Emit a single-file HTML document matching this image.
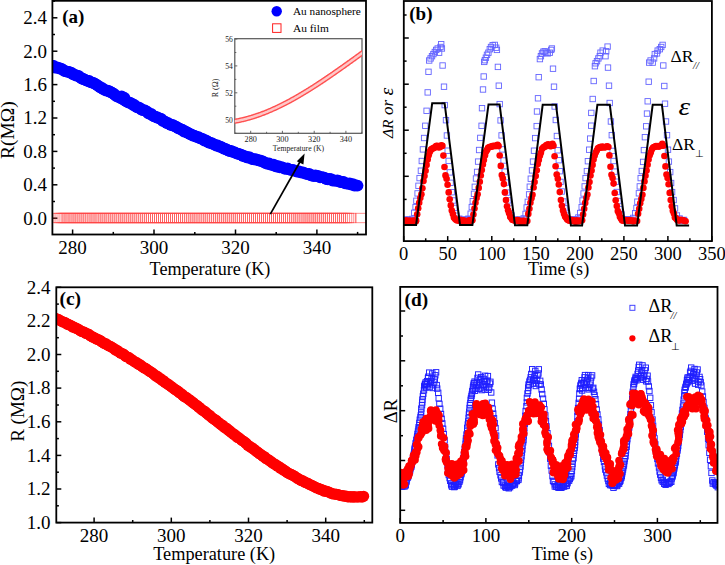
<!DOCTYPE html>
<html><head><meta charset="utf-8"><style>html,body{margin:0;padding:0;background:#fff;width:725px;height:565px;overflow:hidden}svg{display:block}</style></head>
<body><svg width="725" height="565" viewBox="0 0 725 565">
<rect width="725" height="565" fill="#fff"/>
<defs>
<clipPath id="ca"><rect x="52.4" y="0.8" width="313.6" height="233.7"/></clipPath>
<clipPath id="cb"><rect x="403.8" y="1" width="308.1" height="240.1"/></clipPath>
<clipPath id="cc"><rect x="56.3" y="287.3" width="316" height="235.3"/></clipPath>
<clipPath id="cd"><rect x="400.2" y="286.9" width="317.3" height="236"/></clipPath>
<clipPath id="ci"><rect x="234.8" y="38.7" width="127.2" height="94.6"/></clipPath>
</defs>
<line x1="52.4" y1="218.2" x2="57.4" y2="218.2" stroke="#000" stroke-width="1.5"/>
<line x1="52.4" y1="184.8" x2="57.4" y2="184.8" stroke="#000" stroke-width="1.5"/>
<line x1="52.4" y1="151.4" x2="57.4" y2="151.4" stroke="#000" stroke-width="1.5"/>
<line x1="52.4" y1="118.0" x2="57.4" y2="118.0" stroke="#000" stroke-width="1.5"/>
<line x1="52.4" y1="84.6" x2="57.4" y2="84.6" stroke="#000" stroke-width="1.5"/>
<line x1="52.4" y1="51.2" x2="57.4" y2="51.2" stroke="#000" stroke-width="1.5"/>
<line x1="52.4" y1="17.8" x2="57.4" y2="17.8" stroke="#000" stroke-width="1.5"/>
<line x1="52.4" y1="201.5" x2="55.0" y2="201.5" stroke="#000" stroke-width="1.5"/>
<line x1="52.4" y1="168.1" x2="55.0" y2="168.1" stroke="#000" stroke-width="1.5"/>
<line x1="52.4" y1="134.7" x2="55.0" y2="134.7" stroke="#000" stroke-width="1.5"/>
<line x1="52.4" y1="101.3" x2="55.0" y2="101.3" stroke="#000" stroke-width="1.5"/>
<line x1="52.4" y1="67.9" x2="55.0" y2="67.9" stroke="#000" stroke-width="1.5"/>
<line x1="52.4" y1="34.5" x2="55.0" y2="34.5" stroke="#000" stroke-width="1.5"/>
<line x1="52.4" y1="1.1" x2="55.0" y2="1.1" stroke="#000" stroke-width="1.5"/>
<line x1="72.6" y1="234.5" x2="72.6" y2="229.5" stroke="#000" stroke-width="1.5"/>
<line x1="154.0" y1="234.5" x2="154.0" y2="229.5" stroke="#000" stroke-width="1.5"/>
<line x1="235.5" y1="234.5" x2="235.5" y2="229.5" stroke="#000" stroke-width="1.5"/>
<line x1="316.9" y1="234.5" x2="316.9" y2="229.5" stroke="#000" stroke-width="1.5"/>
<line x1="113.3" y1="234.5" x2="113.3" y2="231.9" stroke="#000" stroke-width="1.5"/>
<line x1="194.8" y1="234.5" x2="194.8" y2="231.9" stroke="#000" stroke-width="1.5"/>
<line x1="276.2" y1="234.5" x2="276.2" y2="231.9" stroke="#000" stroke-width="1.5"/>
<line x1="357.6" y1="234.5" x2="357.6" y2="231.9" stroke="#000" stroke-width="1.5"/>
<line x1="403.8" y1="15.0" x2="406.6" y2="15.0" stroke="#000" stroke-width="1.5"/>
<line x1="403.8" y1="61.1" x2="406.6" y2="61.1" stroke="#000" stroke-width="1.5"/>
<line x1="403.8" y1="107.2" x2="406.6" y2="107.2" stroke="#000" stroke-width="1.5"/>
<line x1="403.8" y1="153.3" x2="406.6" y2="153.3" stroke="#000" stroke-width="1.5"/>
<line x1="403.8" y1="199.4" x2="406.6" y2="199.4" stroke="#000" stroke-width="1.5"/>
<line x1="403.8" y1="38.0" x2="408.8" y2="38.0" stroke="#000" stroke-width="1.5"/>
<line x1="403.8" y1="84.2" x2="408.8" y2="84.2" stroke="#000" stroke-width="1.5"/>
<line x1="403.8" y1="130.2" x2="408.8" y2="130.2" stroke="#000" stroke-width="1.5"/>
<line x1="403.8" y1="176.3" x2="408.8" y2="176.3" stroke="#000" stroke-width="1.5"/>
<line x1="403.8" y1="222.5" x2="408.8" y2="222.5" stroke="#000" stroke-width="1.5"/>
<line x1="403.7" y1="241.1" x2="403.7" y2="236.1" stroke="#000" stroke-width="1.5"/>
<line x1="447.7" y1="241.1" x2="447.7" y2="236.1" stroke="#000" stroke-width="1.5"/>
<line x1="491.8" y1="241.1" x2="491.8" y2="236.1" stroke="#000" stroke-width="1.5"/>
<line x1="535.8" y1="241.1" x2="535.8" y2="236.1" stroke="#000" stroke-width="1.5"/>
<line x1="579.8" y1="241.1" x2="579.8" y2="236.1" stroke="#000" stroke-width="1.5"/>
<line x1="623.9" y1="241.1" x2="623.9" y2="236.1" stroke="#000" stroke-width="1.5"/>
<line x1="667.9" y1="241.1" x2="667.9" y2="236.1" stroke="#000" stroke-width="1.5"/>
<line x1="711.9" y1="241.1" x2="711.9" y2="236.1" stroke="#000" stroke-width="1.5"/>
<line x1="425.7" y1="241.1" x2="425.7" y2="238.3" stroke="#000" stroke-width="1.5"/>
<line x1="469.7" y1="241.1" x2="469.7" y2="238.3" stroke="#000" stroke-width="1.5"/>
<line x1="513.8" y1="241.1" x2="513.8" y2="238.3" stroke="#000" stroke-width="1.5"/>
<line x1="557.8" y1="241.1" x2="557.8" y2="238.3" stroke="#000" stroke-width="1.5"/>
<line x1="601.8" y1="241.1" x2="601.8" y2="238.3" stroke="#000" stroke-width="1.5"/>
<line x1="645.9" y1="241.1" x2="645.9" y2="238.3" stroke="#000" stroke-width="1.5"/>
<line x1="689.9" y1="241.1" x2="689.9" y2="238.3" stroke="#000" stroke-width="1.5"/>
<line x1="56.3" y1="522.6" x2="61.3" y2="522.6" stroke="#000" stroke-width="1.5"/>
<line x1="56.3" y1="489.0" x2="61.3" y2="489.0" stroke="#000" stroke-width="1.5"/>
<line x1="56.3" y1="455.4" x2="61.3" y2="455.4" stroke="#000" stroke-width="1.5"/>
<line x1="56.3" y1="421.8" x2="61.3" y2="421.8" stroke="#000" stroke-width="1.5"/>
<line x1="56.3" y1="388.1" x2="61.3" y2="388.1" stroke="#000" stroke-width="1.5"/>
<line x1="56.3" y1="354.5" x2="61.3" y2="354.5" stroke="#000" stroke-width="1.5"/>
<line x1="56.3" y1="320.9" x2="61.3" y2="320.9" stroke="#000" stroke-width="1.5"/>
<line x1="56.3" y1="287.3" x2="61.3" y2="287.3" stroke="#000" stroke-width="1.5"/>
<line x1="56.3" y1="505.8" x2="58.9" y2="505.8" stroke="#000" stroke-width="1.5"/>
<line x1="56.3" y1="472.2" x2="58.9" y2="472.2" stroke="#000" stroke-width="1.5"/>
<line x1="56.3" y1="438.6" x2="58.9" y2="438.6" stroke="#000" stroke-width="1.5"/>
<line x1="56.3" y1="405.0" x2="58.9" y2="405.0" stroke="#000" stroke-width="1.5"/>
<line x1="56.3" y1="371.3" x2="58.9" y2="371.3" stroke="#000" stroke-width="1.5"/>
<line x1="56.3" y1="337.7" x2="58.9" y2="337.7" stroke="#000" stroke-width="1.5"/>
<line x1="56.3" y1="304.1" x2="58.9" y2="304.1" stroke="#000" stroke-width="1.5"/>
<line x1="94.1" y1="522.6" x2="94.1" y2="517.6" stroke="#000" stroke-width="1.5"/>
<line x1="171.3" y1="522.6" x2="171.3" y2="517.6" stroke="#000" stroke-width="1.5"/>
<line x1="248.5" y1="522.6" x2="248.5" y2="517.6" stroke="#000" stroke-width="1.5"/>
<line x1="325.7" y1="522.6" x2="325.7" y2="517.6" stroke="#000" stroke-width="1.5"/>
<line x1="132.7" y1="522.6" x2="132.7" y2="520.0" stroke="#000" stroke-width="1.5"/>
<line x1="209.9" y1="522.6" x2="209.9" y2="520.0" stroke="#000" stroke-width="1.5"/>
<line x1="287.1" y1="522.6" x2="287.1" y2="520.0" stroke="#000" stroke-width="1.5"/>
<line x1="364.3" y1="522.6" x2="364.3" y2="520.0" stroke="#000" stroke-width="1.5"/>
<line x1="400.2" y1="311.0" x2="405.2" y2="311.0" stroke="#000" stroke-width="1.5"/>
<line x1="400.2" y1="360.8" x2="405.2" y2="360.8" stroke="#000" stroke-width="1.5"/>
<line x1="400.2" y1="410.7" x2="405.2" y2="410.7" stroke="#000" stroke-width="1.5"/>
<line x1="400.2" y1="460.5" x2="405.2" y2="460.5" stroke="#000" stroke-width="1.5"/>
<line x1="400.2" y1="510.3" x2="405.2" y2="510.3" stroke="#000" stroke-width="1.5"/>
<line x1="400.2" y1="336.0" x2="403.0" y2="336.0" stroke="#000" stroke-width="1.5"/>
<line x1="400.2" y1="385.8" x2="403.0" y2="385.8" stroke="#000" stroke-width="1.5"/>
<line x1="400.2" y1="435.7" x2="403.0" y2="435.7" stroke="#000" stroke-width="1.5"/>
<line x1="400.2" y1="485.5" x2="403.0" y2="485.5" stroke="#000" stroke-width="1.5"/>
<line x1="400.2" y1="522.9" x2="400.2" y2="517.9" stroke="#000" stroke-width="1.5"/>
<line x1="485.9" y1="522.9" x2="485.9" y2="517.9" stroke="#000" stroke-width="1.5"/>
<line x1="571.7" y1="522.9" x2="571.7" y2="517.9" stroke="#000" stroke-width="1.5"/>
<line x1="657.4" y1="522.9" x2="657.4" y2="517.9" stroke="#000" stroke-width="1.5"/>
<line x1="443.1" y1="522.9" x2="443.1" y2="520.1" stroke="#000" stroke-width="1.5"/>
<line x1="528.8" y1="522.9" x2="528.8" y2="520.1" stroke="#000" stroke-width="1.5"/>
<line x1="614.5" y1="522.9" x2="614.5" y2="520.1" stroke="#000" stroke-width="1.5"/>
<line x1="700.3" y1="522.9" x2="700.3" y2="520.1" stroke="#000" stroke-width="1.5"/>
<g clip-path="url(#ca)" fill="none" stroke="#ff4545" stroke-width="0.6">
<rect x="52.00" y="213.2" width="10.1" height="9.6"/>
<rect x="53.99" y="213.2" width="10.1" height="9.6"/>
<rect x="55.96" y="213.2" width="10.1" height="9.6"/>
<rect x="58.00" y="213.2" width="10.1" height="9.6"/>
<rect x="59.95" y="213.2" width="10.1" height="9.6"/>
<rect x="61.98" y="213.2" width="10.1" height="9.6"/>
<rect x="63.98" y="213.2" width="10.1" height="9.6"/>
<rect x="65.93" y="213.2" width="10.1" height="9.6"/>
<rect x="67.95" y="213.2" width="10.1" height="9.6"/>
<rect x="69.89" y="213.2" width="10.1" height="9.6"/>
<rect x="71.90" y="213.2" width="10.1" height="9.6"/>
<rect x="73.85" y="213.2" width="10.1" height="9.6"/>
<rect x="75.81" y="213.2" width="10.1" height="9.6"/>
<rect x="77.82" y="213.2" width="10.1" height="9.6"/>
<rect x="79.89" y="213.2" width="10.1" height="9.6"/>
<rect x="81.85" y="213.2" width="10.1" height="9.6"/>
<rect x="83.82" y="213.2" width="10.1" height="9.6"/>
<rect x="85.86" y="213.2" width="10.1" height="9.6"/>
<rect x="87.96" y="213.2" width="10.1" height="9.6"/>
<rect x="89.99" y="213.2" width="10.1" height="9.6"/>
<rect x="91.99" y="213.2" width="10.1" height="9.6"/>
<rect x="94.09" y="213.2" width="10.1" height="9.6"/>
<rect x="96.03" y="213.2" width="10.1" height="9.6"/>
<rect x="98.11" y="213.2" width="10.1" height="9.6"/>
<rect x="100.10" y="213.2" width="10.1" height="9.6"/>
<rect x="102.06" y="213.2" width="10.1" height="9.6"/>
<rect x="104.02" y="213.2" width="10.1" height="9.6"/>
<rect x="106.01" y="213.2" width="10.1" height="9.6"/>
<rect x="108.08" y="213.2" width="10.1" height="9.6"/>
<rect x="110.05" y="213.2" width="10.1" height="9.6"/>
<rect x="112.08" y="213.2" width="10.1" height="9.6"/>
<rect x="114.12" y="213.2" width="10.1" height="9.6"/>
<rect x="116.12" y="213.2" width="10.1" height="9.6"/>
<rect x="118.15" y="213.2" width="10.1" height="9.6"/>
<rect x="120.10" y="213.2" width="10.1" height="9.6"/>
<rect x="122.05" y="213.2" width="10.1" height="9.6"/>
<rect x="124.02" y="213.2" width="10.1" height="9.6"/>
<rect x="126.07" y="213.2" width="10.1" height="9.6"/>
<rect x="128.08" y="213.2" width="10.1" height="9.6"/>
<rect x="130.07" y="213.2" width="10.1" height="9.6"/>
<rect x="132.11" y="213.2" width="10.1" height="9.6"/>
<rect x="134.12" y="213.2" width="10.1" height="9.6"/>
<rect x="136.11" y="213.2" width="10.1" height="9.6"/>
<rect x="138.17" y="213.2" width="10.1" height="9.6"/>
<rect x="140.22" y="213.2" width="10.1" height="9.6"/>
<rect x="142.20" y="213.2" width="10.1" height="9.6"/>
<rect x="144.24" y="213.2" width="10.1" height="9.6"/>
<rect x="146.26" y="213.2" width="10.1" height="9.6"/>
<rect x="148.34" y="213.2" width="10.1" height="9.6"/>
<rect x="150.40" y="213.2" width="10.1" height="9.6"/>
<rect x="152.38" y="213.2" width="10.1" height="9.6"/>
<rect x="154.48" y="213.2" width="10.1" height="9.6"/>
<rect x="156.44" y="213.2" width="10.1" height="9.6"/>
<rect x="158.45" y="213.2" width="10.1" height="9.6"/>
<rect x="160.51" y="213.2" width="10.1" height="9.6"/>
<rect x="162.47" y="213.2" width="10.1" height="9.6"/>
<rect x="164.49" y="213.2" width="10.1" height="9.6"/>
<rect x="166.44" y="213.2" width="10.1" height="9.6"/>
<rect x="168.48" y="213.2" width="10.1" height="9.6"/>
<rect x="170.54" y="213.2" width="10.1" height="9.6"/>
<rect x="172.58" y="213.2" width="10.1" height="9.6"/>
<rect x="174.66" y="213.2" width="10.1" height="9.6"/>
<rect x="176.65" y="213.2" width="10.1" height="9.6"/>
<rect x="178.70" y="213.2" width="10.1" height="9.6"/>
<rect x="180.73" y="213.2" width="10.1" height="9.6"/>
<rect x="182.77" y="213.2" width="10.1" height="9.6"/>
<rect x="184.78" y="213.2" width="10.1" height="9.6"/>
<rect x="186.85" y="213.2" width="10.1" height="9.6"/>
<rect x="188.94" y="213.2" width="10.1" height="9.6"/>
<rect x="190.96" y="213.2" width="10.1" height="9.6"/>
<rect x="193.01" y="213.2" width="10.1" height="9.6"/>
<rect x="194.96" y="213.2" width="10.1" height="9.6"/>
<rect x="197.01" y="213.2" width="10.1" height="9.6"/>
<rect x="199.05" y="213.2" width="10.1" height="9.6"/>
<rect x="201.15" y="213.2" width="10.1" height="9.6"/>
<rect x="203.22" y="213.2" width="10.1" height="9.6"/>
<rect x="205.21" y="213.2" width="10.1" height="9.6"/>
<rect x="207.21" y="213.2" width="10.1" height="9.6"/>
<rect x="209.26" y="213.2" width="10.1" height="9.6"/>
<rect x="211.20" y="213.2" width="10.1" height="9.6"/>
<rect x="213.21" y="213.2" width="10.1" height="9.6"/>
<rect x="215.18" y="213.2" width="10.1" height="9.6"/>
<rect x="217.14" y="213.2" width="10.1" height="9.6"/>
<rect x="219.09" y="213.2" width="10.1" height="9.6"/>
<rect x="221.15" y="213.2" width="10.1" height="9.6"/>
<rect x="223.11" y="213.2" width="10.1" height="9.6"/>
<rect x="225.09" y="213.2" width="10.1" height="9.6"/>
<rect x="227.09" y="213.2" width="10.1" height="9.6"/>
<rect x="229.17" y="213.2" width="10.1" height="9.6"/>
<rect x="231.13" y="213.2" width="10.1" height="9.6"/>
<rect x="233.14" y="213.2" width="10.1" height="9.6"/>
<rect x="235.17" y="213.2" width="10.1" height="9.6"/>
<rect x="237.25" y="213.2" width="10.1" height="9.6"/>
<rect x="239.32" y="213.2" width="10.1" height="9.6"/>
<rect x="241.40" y="213.2" width="10.1" height="9.6"/>
<rect x="243.38" y="213.2" width="10.1" height="9.6"/>
<rect x="245.39" y="213.2" width="10.1" height="9.6"/>
<rect x="247.39" y="213.2" width="10.1" height="9.6"/>
<rect x="249.47" y="213.2" width="10.1" height="9.6"/>
<rect x="251.56" y="213.2" width="10.1" height="9.6"/>
<rect x="253.52" y="213.2" width="10.1" height="9.6"/>
<rect x="255.49" y="213.2" width="10.1" height="9.6"/>
<rect x="257.47" y="213.2" width="10.1" height="9.6"/>
<rect x="259.45" y="213.2" width="10.1" height="9.6"/>
<rect x="261.46" y="213.2" width="10.1" height="9.6"/>
<rect x="263.50" y="213.2" width="10.1" height="9.6"/>
<rect x="265.48" y="213.2" width="10.1" height="9.6"/>
<rect x="267.42" y="213.2" width="10.1" height="9.6"/>
<rect x="269.43" y="213.2" width="10.1" height="9.6"/>
<rect x="271.43" y="213.2" width="10.1" height="9.6"/>
<rect x="273.46" y="213.2" width="10.1" height="9.6"/>
<rect x="275.55" y="213.2" width="10.1" height="9.6"/>
<rect x="277.60" y="213.2" width="10.1" height="9.6"/>
<rect x="279.62" y="213.2" width="10.1" height="9.6"/>
<rect x="281.66" y="213.2" width="10.1" height="9.6"/>
<rect x="283.71" y="213.2" width="10.1" height="9.6"/>
<rect x="285.66" y="213.2" width="10.1" height="9.6"/>
<rect x="287.74" y="213.2" width="10.1" height="9.6"/>
<rect x="289.81" y="213.2" width="10.1" height="9.6"/>
<rect x="291.89" y="213.2" width="10.1" height="9.6"/>
<rect x="293.96" y="213.2" width="10.1" height="9.6"/>
<rect x="295.96" y="213.2" width="10.1" height="9.6"/>
<rect x="297.96" y="213.2" width="10.1" height="9.6"/>
<rect x="299.92" y="213.2" width="10.1" height="9.6"/>
<rect x="301.96" y="213.2" width="10.1" height="9.6"/>
<rect x="303.91" y="213.2" width="10.1" height="9.6"/>
<rect x="305.86" y="213.2" width="10.1" height="9.6"/>
<rect x="307.83" y="213.2" width="10.1" height="9.6"/>
<rect x="309.80" y="213.2" width="10.1" height="9.6"/>
<rect x="311.80" y="213.2" width="10.1" height="9.6"/>
<rect x="313.74" y="213.2" width="10.1" height="9.6"/>
<rect x="315.68" y="213.2" width="10.1" height="9.6"/>
<rect x="317.65" y="213.2" width="10.1" height="9.6"/>
<rect x="319.60" y="213.2" width="10.1" height="9.6"/>
<rect x="321.60" y="213.2" width="10.1" height="9.6"/>
<rect x="323.55" y="213.2" width="10.1" height="9.6"/>
<rect x="325.63" y="213.2" width="10.1" height="9.6"/>
<rect x="327.66" y="213.2" width="10.1" height="9.6"/>
<rect x="329.63" y="213.2" width="10.1" height="9.6"/>
<rect x="331.61" y="213.2" width="10.1" height="9.6"/>
<rect x="333.60" y="213.2" width="10.1" height="9.6"/>
<rect x="335.60" y="213.2" width="10.1" height="9.6"/>
<rect x="337.56" y="213.2" width="10.1" height="9.6"/>
<rect x="339.64" y="213.2" width="10.1" height="9.6"/>
<rect x="341.74" y="213.2" width="10.1" height="9.6"/>
<rect x="343.75" y="213.2" width="10.1" height="9.6"/>
<rect x="345.77" y="213.2" width="10.1" height="9.6"/>
<rect x="355.9" y="213.2" width="10.1" height="9.6"/>
</g>
<g clip-path="url(#ca)" fill="#0000ff">
<circle cx="46.0" cy="63.7" r="5.9"/>
<circle cx="47.5" cy="64.5" r="5.9"/>
<circle cx="49.1" cy="64.8" r="5.9"/>
<circle cx="50.6" cy="65.9" r="5.9"/>
<circle cx="52.1" cy="65.6" r="5.9"/>
<circle cx="53.7" cy="65.9" r="5.9"/>
<circle cx="55.2" cy="67.6" r="5.9"/>
<circle cx="56.7" cy="67.6" r="5.9"/>
<circle cx="58.2" cy="67.6" r="5.9"/>
<circle cx="59.7" cy="68.7" r="5.9"/>
<circle cx="61.2" cy="68.6" r="5.9"/>
<circle cx="62.7" cy="69.7" r="5.9"/>
<circle cx="64.2" cy="70.9" r="5.9"/>
<circle cx="65.7" cy="71.3" r="5.9"/>
<circle cx="67.2" cy="71.7" r="5.9"/>
<circle cx="68.7" cy="71.8" r="5.9"/>
<circle cx="70.1" cy="72.5" r="5.9"/>
<circle cx="71.6" cy="72.9" r="5.9"/>
<circle cx="73.1" cy="74.3" r="5.9"/>
<circle cx="74.6" cy="74.6" r="5.9"/>
<circle cx="76.0" cy="75.6" r="5.9"/>
<circle cx="77.5" cy="75.7" r="5.9"/>
<circle cx="78.9" cy="76.2" r="5.9"/>
<circle cx="80.4" cy="77.6" r="5.9"/>
<circle cx="81.8" cy="78.5" r="5.9"/>
<circle cx="83.3" cy="79.0" r="5.9"/>
<circle cx="84.7" cy="79.6" r="5.9"/>
<circle cx="86.2" cy="80.3" r="5.9"/>
<circle cx="87.6" cy="80.9" r="5.9"/>
<circle cx="89.1" cy="81.0" r="5.9"/>
<circle cx="90.5" cy="82.1" r="5.9"/>
<circle cx="91.9" cy="82.6" r="5.9"/>
<circle cx="93.4" cy="82.9" r="5.9"/>
<circle cx="94.8" cy="83.6" r="5.9"/>
<circle cx="96.2" cy="84.6" r="5.9"/>
<circle cx="97.6" cy="85.3" r="5.9"/>
<circle cx="99.1" cy="86.6" r="5.9"/>
<circle cx="100.5" cy="87.6" r="5.9"/>
<circle cx="101.9" cy="87.8" r="5.9"/>
<circle cx="103.3" cy="89.1" r="5.9"/>
<circle cx="104.7" cy="89.9" r="5.9"/>
<circle cx="106.2" cy="90.6" r="5.9"/>
<circle cx="107.6" cy="90.6" r="5.9"/>
<circle cx="109.0" cy="91.2" r="5.9"/>
<circle cx="110.4" cy="92.0" r="5.9"/>
<circle cx="111.8" cy="92.7" r="5.9"/>
<circle cx="113.2" cy="93.5" r="5.9"/>
<circle cx="114.6" cy="94.7" r="5.9"/>
<circle cx="116.0" cy="95.8" r="5.9"/>
<circle cx="117.4" cy="96.5" r="5.9"/>
<circle cx="118.9" cy="96.8" r="5.9"/>
<circle cx="120.3" cy="97.8" r="5.9"/>
<circle cx="121.7" cy="98.7" r="5.9"/>
<circle cx="123.1" cy="98.6" r="5.9"/>
<circle cx="124.5" cy="100.1" r="5.9"/>
<circle cx="125.9" cy="101.2" r="5.9"/>
<circle cx="127.3" cy="101.8" r="5.9"/>
<circle cx="128.7" cy="102.5" r="5.9"/>
<circle cx="130.1" cy="102.9" r="5.9"/>
<circle cx="131.5" cy="103.3" r="5.9"/>
<circle cx="132.9" cy="104.8" r="5.9"/>
<circle cx="134.3" cy="105.0" r="5.9"/>
<circle cx="135.7" cy="106.4" r="5.9"/>
<circle cx="137.1" cy="107.3" r="5.9"/>
<circle cx="138.5" cy="107.4" r="5.9"/>
<circle cx="140.0" cy="108.2" r="5.9"/>
<circle cx="141.4" cy="109.6" r="5.9"/>
<circle cx="142.8" cy="110.1" r="5.9"/>
<circle cx="144.2" cy="110.2" r="5.9"/>
<circle cx="145.6" cy="110.9" r="5.9"/>
<circle cx="147.0" cy="111.7" r="5.9"/>
<circle cx="148.4" cy="113.3" r="5.9"/>
<circle cx="149.8" cy="113.9" r="5.9"/>
<circle cx="151.2" cy="113.9" r="5.9"/>
<circle cx="152.7" cy="115.5" r="5.9"/>
<circle cx="154.1" cy="116.4" r="5.9"/>
<circle cx="155.5" cy="116.8" r="5.9"/>
<circle cx="156.9" cy="117.1" r="5.9"/>
<circle cx="158.3" cy="118.1" r="5.9"/>
<circle cx="159.7" cy="118.4" r="5.9"/>
<circle cx="161.2" cy="119.0" r="5.9"/>
<circle cx="162.6" cy="120.8" r="5.9"/>
<circle cx="164.0" cy="121.2" r="5.9"/>
<circle cx="165.4" cy="121.8" r="5.9"/>
<circle cx="166.8" cy="123.0" r="5.9"/>
<circle cx="168.3" cy="123.1" r="5.9"/>
<circle cx="169.7" cy="124.4" r="5.9"/>
<circle cx="171.1" cy="125.0" r="5.9"/>
<circle cx="172.6" cy="125.0" r="5.9"/>
<circle cx="174.0" cy="125.8" r="5.9"/>
<circle cx="175.4" cy="126.5" r="5.9"/>
<circle cx="176.9" cy="127.2" r="5.9"/>
<circle cx="178.3" cy="128.3" r="5.9"/>
<circle cx="179.7" cy="128.6" r="5.9"/>
<circle cx="181.2" cy="129.5" r="5.9"/>
<circle cx="182.6" cy="129.8" r="5.9"/>
<circle cx="184.1" cy="131.5" r="5.9"/>
<circle cx="185.5" cy="131.5" r="5.9"/>
<circle cx="186.9" cy="132.3" r="5.9"/>
<circle cx="188.4" cy="133.1" r="5.9"/>
<circle cx="189.8" cy="134.2" r="5.9"/>
<circle cx="191.3" cy="134.3" r="5.9"/>
<circle cx="192.7" cy="135.6" r="5.9"/>
<circle cx="194.2" cy="135.7" r="5.9"/>
<circle cx="195.6" cy="136.4" r="5.9"/>
<circle cx="197.1" cy="137.1" r="5.9"/>
<circle cx="198.6" cy="137.1" r="5.9"/>
<circle cx="200.0" cy="138.3" r="5.9"/>
<circle cx="201.5" cy="138.6" r="5.9"/>
<circle cx="203.0" cy="139.1" r="5.9"/>
<circle cx="204.4" cy="140.7" r="5.9"/>
<circle cx="205.9" cy="140.5" r="5.9"/>
<circle cx="207.4" cy="141.5" r="5.9"/>
<circle cx="208.8" cy="142.5" r="5.9"/>
<circle cx="210.3" cy="142.9" r="5.9"/>
<circle cx="211.8" cy="143.2" r="5.9"/>
<circle cx="213.3" cy="144.1" r="5.9"/>
<circle cx="214.7" cy="144.7" r="5.9"/>
<circle cx="216.2" cy="145.6" r="5.9"/>
<circle cx="217.7" cy="145.4" r="5.9"/>
<circle cx="219.2" cy="146.6" r="5.9"/>
<circle cx="220.7" cy="146.8" r="5.9"/>
<circle cx="222.1" cy="147.4" r="5.9"/>
<circle cx="223.6" cy="148.6" r="5.9"/>
<circle cx="225.1" cy="148.8" r="5.9"/>
<circle cx="226.6" cy="149.5" r="5.9"/>
<circle cx="228.1" cy="150.3" r="5.9"/>
<circle cx="229.6" cy="151.0" r="5.9"/>
<circle cx="231.1" cy="151.0" r="5.9"/>
<circle cx="232.6" cy="151.8" r="5.9"/>
<circle cx="234.1" cy="152.2" r="5.9"/>
<circle cx="235.6" cy="152.8" r="5.9"/>
<circle cx="237.1" cy="153.6" r="5.9"/>
<circle cx="238.6" cy="153.8" r="5.9"/>
<circle cx="240.1" cy="154.4" r="5.9"/>
<circle cx="241.6" cy="154.9" r="5.9"/>
<circle cx="243.1" cy="156.0" r="5.9"/>
<circle cx="244.7" cy="156.2" r="5.9"/>
<circle cx="246.2" cy="157.0" r="5.9"/>
<circle cx="247.7" cy="157.5" r="5.9"/>
<circle cx="249.2" cy="157.2" r="5.9"/>
<circle cx="250.7" cy="158.1" r="5.9"/>
<circle cx="252.2" cy="159.1" r="5.9"/>
<circle cx="253.8" cy="159.4" r="5.9"/>
<circle cx="255.3" cy="159.1" r="5.9"/>
<circle cx="256.8" cy="159.6" r="5.9"/>
<circle cx="258.3" cy="160.4" r="5.9"/>
<circle cx="259.9" cy="160.5" r="5.9"/>
<circle cx="261.4" cy="161.1" r="5.9"/>
<circle cx="262.9" cy="161.4" r="5.9"/>
<circle cx="264.4" cy="162.6" r="5.9"/>
<circle cx="266.0" cy="163.2" r="5.9"/>
<circle cx="267.5" cy="163.8" r="5.9"/>
<circle cx="269.0" cy="163.4" r="5.9"/>
<circle cx="270.6" cy="164.5" r="5.9"/>
<circle cx="272.1" cy="164.9" r="5.9"/>
<circle cx="273.7" cy="164.7" r="5.9"/>
<circle cx="275.2" cy="166.0" r="5.9"/>
<circle cx="276.7" cy="166.5" r="5.9"/>
<circle cx="278.3" cy="166.1" r="5.9"/>
<circle cx="279.8" cy="167.4" r="5.9"/>
<circle cx="281.4" cy="167.2" r="5.9"/>
<circle cx="282.9" cy="167.7" r="5.9"/>
<circle cx="284.4" cy="168.7" r="5.9"/>
<circle cx="286.0" cy="168.9" r="5.9"/>
<circle cx="287.5" cy="168.5" r="5.9"/>
<circle cx="289.1" cy="169.3" r="5.9"/>
<circle cx="290.6" cy="169.8" r="5.9"/>
<circle cx="292.2" cy="170.0" r="5.9"/>
<circle cx="293.7" cy="170.2" r="5.9"/>
<circle cx="295.3" cy="170.8" r="5.9"/>
<circle cx="296.8" cy="171.6" r="5.9"/>
<circle cx="298.4" cy="171.2" r="5.9"/>
<circle cx="299.9" cy="172.2" r="5.9"/>
<circle cx="301.5" cy="172.5" r="5.9"/>
<circle cx="303.0" cy="172.3" r="5.9"/>
<circle cx="304.6" cy="173.1" r="5.9"/>
<circle cx="306.1" cy="173.8" r="5.9"/>
<circle cx="307.7" cy="174.1" r="5.9"/>
<circle cx="309.2" cy="173.9" r="5.9"/>
<circle cx="310.8" cy="175.4" r="5.9"/>
<circle cx="312.4" cy="175.5" r="5.9"/>
<circle cx="313.9" cy="176.1" r="5.9"/>
<circle cx="315.5" cy="175.5" r="5.9"/>
<circle cx="317.0" cy="176.0" r="5.9"/>
<circle cx="318.6" cy="176.1" r="5.9"/>
<circle cx="320.1" cy="177.4" r="5.9"/>
<circle cx="321.7" cy="177.1" r="5.9"/>
<circle cx="323.3" cy="177.3" r="5.9"/>
<circle cx="324.8" cy="178.0" r="5.9"/>
<circle cx="326.4" cy="179.0" r="5.9"/>
<circle cx="327.9" cy="179.3" r="5.9"/>
<circle cx="329.5" cy="178.9" r="5.9"/>
<circle cx="331.0" cy="179.2" r="5.9"/>
<circle cx="332.6" cy="180.5" r="5.9"/>
<circle cx="334.2" cy="180.4" r="5.9"/>
<circle cx="335.7" cy="180.9" r="5.9"/>
<circle cx="337.3" cy="180.5" r="5.9"/>
<circle cx="338.8" cy="180.9" r="5.9"/>
<circle cx="340.4" cy="182.0" r="5.9"/>
<circle cx="342.0" cy="182.0" r="5.9"/>
<circle cx="343.5" cy="182.0" r="5.9"/>
<circle cx="345.1" cy="183.4" r="5.9"/>
<circle cx="346.6" cy="183.4" r="5.9"/>
<circle cx="348.2" cy="183.9" r="5.9"/>
<circle cx="349.7" cy="183.4" r="5.9"/>
<circle cx="351.3" cy="184.7" r="5.9"/>
<circle cx="352.9" cy="184.2" r="5.9"/>
<circle cx="354.4" cy="185.5" r="5.9"/>
<circle cx="356.0" cy="185.4" r="5.9"/>
<circle cx="357.5" cy="185.6" r="5.9"/>
<circle cx="121.6" cy="96.6" r="6.1"/>
<circle cx="124.5" cy="97.8" r="5.9"/>
</g>
<line x1="270.3" y1="214.2" x2="301" y2="160" stroke="#000" stroke-width="1.7"/>
<polygon points="304.6,153.6 296.8,161.2 303.4,164.6" fill="#000"/>
<rect x="234.8" y="38.7" width="127.2" height="94.6" fill="#fff" stroke="#555" stroke-width="1.2"/>
<line x1="234.8" y1="119.7" x2="237.3" y2="119.7" stroke="#555" stroke-width="0.9"/>
<line x1="234.8" y1="92.8" x2="237.3" y2="92.8" stroke="#555" stroke-width="0.9"/>
<line x1="234.8" y1="65.9" x2="237.3" y2="65.9" stroke="#555" stroke-width="0.9"/>
<line x1="234.8" y1="39.0" x2="237.3" y2="39.0" stroke="#555" stroke-width="0.9"/>
<line x1="234.8" y1="133.2" x2="236.3" y2="133.2" stroke="#555" stroke-width="0.9"/>
<line x1="234.8" y1="106.2" x2="236.3" y2="106.2" stroke="#555" stroke-width="0.9"/>
<line x1="234.8" y1="79.4" x2="236.3" y2="79.4" stroke="#555" stroke-width="0.9"/>
<line x1="234.8" y1="52.5" x2="236.3" y2="52.5" stroke="#555" stroke-width="0.9"/>
<line x1="250.7" y1="133.3" x2="250.7" y2="130.8" stroke="#555" stroke-width="0.9"/>
<line x1="282.4" y1="133.3" x2="282.4" y2="130.8" stroke="#555" stroke-width="0.9"/>
<line x1="314.2" y1="133.3" x2="314.2" y2="130.8" stroke="#555" stroke-width="0.9"/>
<line x1="345.9" y1="133.3" x2="345.9" y2="130.8" stroke="#555" stroke-width="0.9"/>
<line x1="266.6" y1="133.3" x2="266.6" y2="131.8" stroke="#555" stroke-width="0.9"/>
<line x1="298.3" y1="133.3" x2="298.3" y2="131.8" stroke="#555" stroke-width="0.9"/>
<line x1="330.1" y1="133.3" x2="330.1" y2="131.8" stroke="#555" stroke-width="0.9"/>
<line x1="361.8" y1="133.3" x2="361.8" y2="131.8" stroke="#555" stroke-width="0.9"/>
<text x="232.8" y="122.6" font-family="Liberation Serif" font-size="8.5" text-anchor="end" font-weight="normal" font-style="normal" fill="#222" textLength="7.6" lengthAdjust="spacingAndGlyphs">50</text>
<text x="232.8" y="95.7" font-family="Liberation Serif" font-size="8.5" text-anchor="end" font-weight="normal" font-style="normal" fill="#222" textLength="7.6" lengthAdjust="spacingAndGlyphs">52</text>
<text x="232.8" y="68.8" font-family="Liberation Serif" font-size="8.5" text-anchor="end" font-weight="normal" font-style="normal" fill="#222" textLength="7.6" lengthAdjust="spacingAndGlyphs">54</text>
<text x="232.8" y="41.9" font-family="Liberation Serif" font-size="8.5" text-anchor="end" font-weight="normal" font-style="normal" fill="#222" textLength="7.6" lengthAdjust="spacingAndGlyphs">56</text>
<text x="250.7" y="142.0" font-family="Liberation Serif" font-size="8.2" text-anchor="middle" font-weight="normal" font-style="normal" fill="#222">280</text>
<text x="282.4" y="142.0" font-family="Liberation Serif" font-size="8.2" text-anchor="middle" font-weight="normal" font-style="normal" fill="#222">300</text>
<text x="314.2" y="142.0" font-family="Liberation Serif" font-size="8.2" text-anchor="middle" font-weight="normal" font-style="normal" fill="#222">320</text>
<text x="345.9" y="142.0" font-family="Liberation Serif" font-size="8.2" text-anchor="middle" font-weight="normal" font-style="normal" fill="#222">340</text>
<text x="298.5" y="151.0" font-family="Liberation Serif" font-size="7.7" text-anchor="middle" font-weight="normal" font-style="normal" fill="#222">Temperature (K)</text>
<text transform="translate(218.3,88) rotate(-90)" font-family="Liberation Serif" font-size="8" text-anchor="middle" fill="#222">R (Ω)</text>
<g clip-path="url(#ci)">
<path d="M232.0,121.7 L232.5,121.6 L233.0,121.5 L233.5,121.5 L234.0,121.4 L234.5,121.3 L235.0,121.2 L235.5,121.1 L236.0,121.0 L236.5,120.9 L237.0,120.9 L237.5,120.8 L238.0,120.7 L238.5,120.6 L239.0,120.5 L239.5,120.4 L240.0,120.3 L240.5,120.1 L241.0,120.0 L241.5,119.9 L242.0,119.8 L242.5,119.7 L243.0,119.6 L243.5,119.5 L244.0,119.3 L244.5,119.2 L245.0,119.1 L245.5,119.0 L246.0,118.8 L246.5,118.7 L247.0,118.6 L247.5,118.4 L248.0,118.3 L248.5,118.2 L249.0,118.0 L249.5,117.9 L250.0,117.7 L250.5,117.6 L251.0,117.4 L251.5,117.3 L252.0,117.1 L252.5,117.0 L253.0,116.8 L253.5,116.7 L254.0,116.5 L254.5,116.4 L255.0,116.2 L255.5,116.0 L256.0,115.9 L256.5,115.7 L257.0,115.5 L257.5,115.4 L258.0,115.2 L258.5,115.0 L259.0,114.8 L259.5,114.6 L260.0,114.5 L260.5,114.3 L261.0,114.1 L261.5,113.9 L262.0,113.7 L262.5,113.5 L263.0,113.3 L263.5,113.2 L264.0,113.0 L264.5,112.8 L265.0,112.6 L265.5,112.4 L266.0,112.2 L266.5,112.0 L267.0,111.8 L267.5,111.6 L268.0,111.3 L268.5,111.1 L269.0,110.9 L269.5,110.7 L270.0,110.5 L270.5,110.3 L271.0,110.1 L271.5,109.9 L272.0,109.6 L272.5,109.4 L273.0,109.2 L273.5,109.0 L274.0,108.7 L274.5,108.5 L275.0,108.3 L275.5,108.0 L276.0,107.8 L276.5,107.6 L277.0,107.3 L277.5,107.1 L278.0,106.9 L278.5,106.6 L279.0,106.4 L279.5,106.2 L280.0,105.9 L280.5,105.7 L281.0,105.4 L281.5,105.2 L282.0,104.9 L282.5,104.7 L283.0,104.4 L283.5,104.2 L284.0,103.9 L284.5,103.7 L285.0,103.4 L285.5,103.1 L286.0,102.9 L286.5,102.6 L287.0,102.4 L287.5,102.1 L288.0,101.8 L288.5,101.6 L289.0,101.3 L289.5,101.0 L290.0,100.8 L290.5,100.5 L291.0,100.2 L291.5,99.9 L292.0,99.7 L292.5,99.4 L293.0,99.1 L293.5,98.8 L294.0,98.6 L294.5,98.3 L295.0,98.0 L295.5,97.7 L296.0,97.4 L296.5,97.1 L297.0,96.9 L297.5,96.6 L298.0,96.3 L298.5,96.0 L299.0,95.7 L299.5,95.4 L300.0,95.1 L300.5,94.8 L301.0,94.5 L301.5,94.2 L302.0,93.9 L302.5,93.6 L303.0,93.3 L303.5,93.0 L304.0,92.7 L304.5,92.4 L305.0,92.1 L305.5,91.8 L306.0,91.5 L306.5,91.2 L307.0,90.9 L307.5,90.6 L308.0,90.3 L308.5,90.0 L309.0,89.7 L309.5,89.4 L310.0,89.0 L310.5,88.7 L311.0,88.4 L311.5,88.1 L312.0,87.8 L312.5,87.5 L313.0,87.2 L313.5,86.8 L314.0,86.5 L314.5,86.2 L315.0,85.9 L315.5,85.5 L316.0,85.2 L316.5,84.9 L317.0,84.6 L317.5,84.3 L318.0,83.9 L318.5,83.6 L319.0,83.3 L319.5,82.9 L320.0,82.6 L320.5,82.3 L321.0,82.0 L321.5,81.6 L322.0,81.3 L322.5,81.0 L323.0,80.6 L323.5,80.3 L324.0,80.0 L324.5,79.6 L325.0,79.3 L325.5,78.9 L326.0,78.6 L326.5,78.3 L327.0,77.9 L327.5,77.6 L328.0,77.3 L328.5,76.9 L329.0,76.6 L329.5,76.2 L330.0,75.9 L330.5,75.5 L331.0,75.2 L331.5,74.9 L332.0,74.5 L332.5,74.2 L333.0,73.8 L333.5,73.5 L334.0,73.1 L334.5,72.8 L335.0,72.4 L335.5,72.1 L336.0,71.7 L336.5,71.4 L337.0,71.0 L337.5,70.7 L338.0,70.3 L338.5,70.0 L339.0,69.6 L339.5,69.3 L340.0,68.9 L340.5,68.6 L341.0,68.2 L341.5,67.9 L342.0,67.5 L342.5,67.2 L343.0,66.8 L343.5,66.5 L344.0,66.1 L344.5,65.8 L345.0,65.4 L345.5,65.0 L346.0,64.7 L346.5,64.3 L347.0,64.0 L347.5,63.6 L348.0,63.3 L348.5,62.9 L349.0,62.5 L349.5,62.2 L350.0,61.8 L350.5,61.5 L351.0,61.1 L351.5,60.7 L352.0,60.4 L352.5,60.0 L353.0,59.7 L353.5,59.3 L354.0,59.0 L354.5,58.6 L355.0,58.2 L355.5,57.9 L356.0,57.5 L356.5,57.1 L357.0,56.8 L357.5,56.4 L358.0,56.1 L358.5,55.7 L359.0,55.3 L359.5,55.0 L360.0,54.6 L360.5,54.3 L361.0,53.9 L361.5,53.5 L362.0,53.2 L362.5,52.8 L363.0,52.4 L363.5,52.1" fill="none" stroke="#ff5050" stroke-width="5.2"/>
<path d="M232.0,121.7 L232.5,121.6 L233.0,121.5 L233.5,121.5 L234.0,121.4 L234.5,121.3 L235.0,121.2 L235.5,121.1 L236.0,121.0 L236.5,120.9 L237.0,120.9 L237.5,120.8 L238.0,120.7 L238.5,120.6 L239.0,120.5 L239.5,120.4 L240.0,120.3 L240.5,120.1 L241.0,120.0 L241.5,119.9 L242.0,119.8 L242.5,119.7 L243.0,119.6 L243.5,119.5 L244.0,119.3 L244.5,119.2 L245.0,119.1 L245.5,119.0 L246.0,118.8 L246.5,118.7 L247.0,118.6 L247.5,118.4 L248.0,118.3 L248.5,118.2 L249.0,118.0 L249.5,117.9 L250.0,117.7 L250.5,117.6 L251.0,117.4 L251.5,117.3 L252.0,117.1 L252.5,117.0 L253.0,116.8 L253.5,116.7 L254.0,116.5 L254.5,116.4 L255.0,116.2 L255.5,116.0 L256.0,115.9 L256.5,115.7 L257.0,115.5 L257.5,115.4 L258.0,115.2 L258.5,115.0 L259.0,114.8 L259.5,114.6 L260.0,114.5 L260.5,114.3 L261.0,114.1 L261.5,113.9 L262.0,113.7 L262.5,113.5 L263.0,113.3 L263.5,113.2 L264.0,113.0 L264.5,112.8 L265.0,112.6 L265.5,112.4 L266.0,112.2 L266.5,112.0 L267.0,111.8 L267.5,111.6 L268.0,111.3 L268.5,111.1 L269.0,110.9 L269.5,110.7 L270.0,110.5 L270.5,110.3 L271.0,110.1 L271.5,109.9 L272.0,109.6 L272.5,109.4 L273.0,109.2 L273.5,109.0 L274.0,108.7 L274.5,108.5 L275.0,108.3 L275.5,108.0 L276.0,107.8 L276.5,107.6 L277.0,107.3 L277.5,107.1 L278.0,106.9 L278.5,106.6 L279.0,106.4 L279.5,106.2 L280.0,105.9 L280.5,105.7 L281.0,105.4 L281.5,105.2 L282.0,104.9 L282.5,104.7 L283.0,104.4 L283.5,104.2 L284.0,103.9 L284.5,103.7 L285.0,103.4 L285.5,103.1 L286.0,102.9 L286.5,102.6 L287.0,102.4 L287.5,102.1 L288.0,101.8 L288.5,101.6 L289.0,101.3 L289.5,101.0 L290.0,100.8 L290.5,100.5 L291.0,100.2 L291.5,99.9 L292.0,99.7 L292.5,99.4 L293.0,99.1 L293.5,98.8 L294.0,98.6 L294.5,98.3 L295.0,98.0 L295.5,97.7 L296.0,97.4 L296.5,97.1 L297.0,96.9 L297.5,96.6 L298.0,96.3 L298.5,96.0 L299.0,95.7 L299.5,95.4 L300.0,95.1 L300.5,94.8 L301.0,94.5 L301.5,94.2 L302.0,93.9 L302.5,93.6 L303.0,93.3 L303.5,93.0 L304.0,92.7 L304.5,92.4 L305.0,92.1 L305.5,91.8 L306.0,91.5 L306.5,91.2 L307.0,90.9 L307.5,90.6 L308.0,90.3 L308.5,90.0 L309.0,89.7 L309.5,89.4 L310.0,89.0 L310.5,88.7 L311.0,88.4 L311.5,88.1 L312.0,87.8 L312.5,87.5 L313.0,87.2 L313.5,86.8 L314.0,86.5 L314.5,86.2 L315.0,85.9 L315.5,85.5 L316.0,85.2 L316.5,84.9 L317.0,84.6 L317.5,84.3 L318.0,83.9 L318.5,83.6 L319.0,83.3 L319.5,82.9 L320.0,82.6 L320.5,82.3 L321.0,82.0 L321.5,81.6 L322.0,81.3 L322.5,81.0 L323.0,80.6 L323.5,80.3 L324.0,80.0 L324.5,79.6 L325.0,79.3 L325.5,78.9 L326.0,78.6 L326.5,78.3 L327.0,77.9 L327.5,77.6 L328.0,77.3 L328.5,76.9 L329.0,76.6 L329.5,76.2 L330.0,75.9 L330.5,75.5 L331.0,75.2 L331.5,74.9 L332.0,74.5 L332.5,74.2 L333.0,73.8 L333.5,73.5 L334.0,73.1 L334.5,72.8 L335.0,72.4 L335.5,72.1 L336.0,71.7 L336.5,71.4 L337.0,71.0 L337.5,70.7 L338.0,70.3 L338.5,70.0 L339.0,69.6 L339.5,69.3 L340.0,68.9 L340.5,68.6 L341.0,68.2 L341.5,67.9 L342.0,67.5 L342.5,67.2 L343.0,66.8 L343.5,66.5 L344.0,66.1 L344.5,65.8 L345.0,65.4 L345.5,65.0 L346.0,64.7 L346.5,64.3 L347.0,64.0 L347.5,63.6 L348.0,63.3 L348.5,62.9 L349.0,62.5 L349.5,62.2 L350.0,61.8 L350.5,61.5 L351.0,61.1 L351.5,60.7 L352.0,60.4 L352.5,60.0 L353.0,59.7 L353.5,59.3 L354.0,59.0 L354.5,58.6 L355.0,58.2 L355.5,57.9 L356.0,57.5 L356.5,57.1 L357.0,56.8 L357.5,56.4 L358.0,56.1 L358.5,55.7 L359.0,55.3 L359.5,55.0 L360.0,54.6 L360.5,54.3 L361.0,53.9 L361.5,53.5 L362.0,53.2 L362.5,52.8 L363.0,52.4 L363.5,52.1" fill="none" stroke="#ffc8c8" stroke-width="2.4"/>
</g>
<circle cx="276.7" cy="11.3" r="5.2" fill="#0000ff"/>
<rect x="272.6" y="23.8" width="8.4" height="8.6" fill="none" stroke="#ff2020" stroke-width="1"/>
<text x="293.0" y="15.2" font-family="Liberation Serif" font-size="11.25" text-anchor="start" font-weight="normal" font-style="normal" >Au nanosphere</text>
<text x="293.0" y="31.5" font-family="Liberation Serif" font-size="11.4" text-anchor="start" font-weight="normal" font-style="normal" >Au film</text>
<rect x="52.4" y="0.8" width="313.6" height="233.7" fill="none" stroke="#000" stroke-width="1.8"/>
<text x="46.9" y="224.5" font-family="Liberation Serif" font-size="19" text-anchor="end" font-weight="normal" font-style="normal" >0.0</text>
<text x="46.9" y="191.1" font-family="Liberation Serif" font-size="19" text-anchor="end" font-weight="normal" font-style="normal" >0.4</text>
<text x="46.9" y="157.7" font-family="Liberation Serif" font-size="19" text-anchor="end" font-weight="normal" font-style="normal" >0.8</text>
<text x="46.9" y="124.3" font-family="Liberation Serif" font-size="19" text-anchor="end" font-weight="normal" font-style="normal" >1.2</text>
<text x="46.9" y="90.9" font-family="Liberation Serif" font-size="19" text-anchor="end" font-weight="normal" font-style="normal" >1.6</text>
<text x="46.9" y="57.5" font-family="Liberation Serif" font-size="19" text-anchor="end" font-weight="normal" font-style="normal" >2.0</text>
<text x="46.9" y="24.1" font-family="Liberation Serif" font-size="19" text-anchor="end" font-weight="normal" font-style="normal" >2.4</text>
<text x="72.6" y="254.2" font-family="Liberation Serif" font-size="19" text-anchor="middle" font-weight="normal" font-style="normal" >280</text>
<text x="154.0" y="254.2" font-family="Liberation Serif" font-size="19" text-anchor="middle" font-weight="normal" font-style="normal" >300</text>
<text x="235.5" y="254.2" font-family="Liberation Serif" font-size="19" text-anchor="middle" font-weight="normal" font-style="normal" >320</text>
<text x="316.9" y="254.2" font-family="Liberation Serif" font-size="19" text-anchor="middle" font-weight="normal" font-style="normal" >340</text>
<text x="210.0" y="275.2" font-family="Liberation Serif" font-size="18.1" text-anchor="middle" font-weight="normal" font-style="normal" >Temperature (K)</text>
<text transform="translate(14.0,130.2) rotate(-90)" font-family="Liberation Serif" font-size="19.5" text-anchor="middle">R(MΩ)</text>
<text x="62.2" y="22.9" font-family="Liberation Serif" font-size="19" text-anchor="start" font-weight="bold" font-style="normal" >(a)</text>
<g clip-path="url(#cb)" fill="none" stroke="#6464ff" stroke-width="0.9">
<rect x="409.6" y="216.2" width="5.4" height="5.4"/>
<rect x="411.5" y="210.1" width="5.4" height="5.4"/>
<rect x="412.9" y="204.4" width="5.4" height="5.4"/>
<rect x="413.7" y="198.1" width="5.4" height="5.4"/>
<rect x="414.9" y="190.7" width="5.4" height="5.4"/>
<rect x="415.8" y="183.1" width="5.4" height="5.4"/>
<rect x="416.9" y="175.4" width="5.4" height="5.4"/>
<rect x="418.2" y="168.0" width="5.4" height="5.4"/>
<rect x="419.1" y="158.3" width="5.4" height="5.4"/>
<rect x="420.2" y="146.7" width="5.4" height="5.4"/>
<rect x="421.4" y="135.3" width="5.4" height="5.4"/>
<rect x="422.6" y="123.1" width="5.4" height="5.4"/>
<rect x="423.9" y="108.1" width="5.4" height="5.4"/>
<rect x="425.0" y="89.7" width="5.4" height="5.4"/>
<rect x="425.8" y="69.1" width="5.4" height="5.4"/>
<rect x="426.5" y="57.8" width="5.4" height="5.4"/>
<rect x="427.9" y="55.7" width="5.4" height="5.4"/>
<rect x="429.3" y="53.5" width="5.4" height="5.4"/>
<rect x="430.7" y="51.4" width="5.4" height="5.4"/>
<rect x="432.1" y="49.3" width="5.4" height="5.4"/>
<rect x="433.5" y="47.2" width="5.4" height="5.4"/>
<rect x="435.0" y="45.8" width="5.4" height="5.4"/>
<rect x="436.4" y="50.0" width="5.4" height="5.4"/>
<rect x="437.8" y="44.3" width="5.4" height="5.4"/>
<rect x="438.5" y="41.5" width="5.4" height="5.4"/>
<rect x="439.2" y="45.8" width="5.4" height="5.4"/>
<rect x="439.9" y="62.8" width="5.4" height="5.4"/>
<rect x="441.3" y="84.0" width="5.4" height="5.4"/>
<rect x="442.0" y="102.4" width="5.4" height="5.4"/>
<rect x="443.3" y="117.5" width="5.4" height="5.4"/>
<rect x="444.2" y="132.8" width="5.4" height="5.4"/>
<rect x="445.0" y="148.0" width="5.4" height="5.4"/>
<rect x="446.0" y="158.2" width="5.4" height="5.4"/>
<rect x="447.1" y="169.7" width="5.4" height="5.4"/>
<rect x="447.9" y="180.1" width="5.4" height="5.4"/>
<rect x="449.0" y="189.5" width="5.4" height="5.4"/>
<rect x="450.5" y="197.8" width="5.4" height="5.4"/>
<rect x="451.7" y="205.2" width="5.4" height="5.4"/>
<rect x="453.6" y="213.0" width="5.4" height="5.4"/>
<rect x="456.6" y="216.0" width="5.4" height="5.4"/>
<rect x="465.7" y="216.0" width="5.4" height="5.4"/>
<rect x="468.0" y="211.0" width="5.4" height="5.4"/>
<rect x="469.1" y="204.4" width="5.4" height="5.4"/>
<rect x="470.1" y="198.5" width="5.4" height="5.4"/>
<rect x="471.3" y="191.1" width="5.4" height="5.4"/>
<rect x="472.1" y="184.1" width="5.4" height="5.4"/>
<rect x="473.3" y="175.8" width="5.4" height="5.4"/>
<rect x="474.4" y="169.2" width="5.4" height="5.4"/>
<rect x="475.4" y="158.9" width="5.4" height="5.4"/>
<rect x="476.4" y="147.3" width="5.4" height="5.4"/>
<rect x="477.6" y="135.2" width="5.4" height="5.4"/>
<rect x="478.9" y="123.1" width="5.4" height="5.4"/>
<rect x="479.3" y="105.5" width="5.4" height="5.4"/>
<rect x="480.3" y="86.8" width="5.4" height="5.4"/>
<rect x="481.0" y="73.8" width="5.4" height="5.4"/>
<rect x="481.5" y="59.2" width="5.4" height="5.4"/>
<rect x="482.2" y="57.5" width="5.4" height="5.4"/>
<rect x="483.2" y="55.0" width="5.4" height="5.4"/>
<rect x="484.3" y="52.1" width="5.4" height="5.4"/>
<rect x="485.7" y="50.0" width="5.4" height="5.4"/>
<rect x="487.1" y="46.5" width="5.4" height="5.4"/>
<rect x="488.3" y="44.3" width="5.4" height="5.4"/>
<rect x="490.0" y="42.5" width="5.4" height="5.4"/>
<rect x="492.1" y="42.2" width="5.4" height="5.4"/>
<rect x="493.5" y="45.0" width="5.4" height="5.4"/>
<rect x="494.2" y="47.2" width="5.4" height="5.4"/>
<rect x="495.2" y="64.2" width="5.4" height="5.4"/>
<rect x="496.1" y="83.0" width="5.4" height="5.4"/>
<rect x="497.0" y="101.4" width="5.4" height="5.4"/>
<rect x="497.9" y="117.7" width="5.4" height="5.4"/>
<rect x="498.9" y="132.7" width="5.4" height="5.4"/>
<rect x="499.8" y="146.7" width="5.4" height="5.4"/>
<rect x="500.9" y="157.8" width="5.4" height="5.4"/>
<rect x="502.0" y="168.9" width="5.4" height="5.4"/>
<rect x="503.1" y="179.9" width="5.4" height="5.4"/>
<rect x="504.0" y="189.9" width="5.4" height="5.4"/>
<rect x="505.5" y="197.7" width="5.4" height="5.4"/>
<rect x="507.1" y="205.2" width="5.4" height="5.4"/>
<rect x="508.9" y="212.8" width="5.4" height="5.4"/>
<rect x="511.5" y="217.0" width="5.4" height="5.4"/>
<rect x="521.0" y="215.7" width="5.4" height="5.4"/>
<rect x="522.9" y="211.2" width="5.4" height="5.4"/>
<rect x="524.0" y="204.8" width="5.4" height="5.4"/>
<rect x="525.1" y="199.1" width="5.4" height="5.4"/>
<rect x="526.4" y="191.7" width="5.4" height="5.4"/>
<rect x="527.1" y="184.0" width="5.4" height="5.4"/>
<rect x="528.1" y="176.0" width="5.4" height="5.4"/>
<rect x="529.3" y="167.7" width="5.4" height="5.4"/>
<rect x="530.3" y="158.9" width="5.4" height="5.4"/>
<rect x="531.3" y="148.0" width="5.4" height="5.4"/>
<rect x="532.5" y="135.4" width="5.4" height="5.4"/>
<rect x="534.0" y="123.4" width="5.4" height="5.4"/>
<rect x="534.3" y="108.8" width="5.4" height="5.4"/>
<rect x="535.3" y="95.6" width="5.4" height="5.4"/>
<rect x="536.0" y="74.5" width="5.4" height="5.4"/>
<rect x="537.2" y="56.4" width="5.4" height="5.4"/>
<rect x="538.2" y="53.5" width="5.4" height="5.4"/>
<rect x="539.3" y="50.7" width="5.4" height="5.4"/>
<rect x="540.7" y="49.0" width="5.4" height="5.4"/>
<rect x="542.1" y="48.6" width="5.4" height="5.4"/>
<rect x="543.5" y="50.0" width="5.4" height="5.4"/>
<rect x="545.0" y="50.7" width="5.4" height="5.4"/>
<rect x="547.1" y="50.0" width="5.4" height="5.4"/>
<rect x="548.5" y="47.2" width="5.4" height="5.4"/>
<rect x="549.2" y="45.8" width="5.4" height="5.4"/>
<rect x="550.3" y="66.0" width="5.4" height="5.4"/>
<rect x="551.3" y="84.0" width="5.4" height="5.4"/>
<rect x="552.0" y="103.8" width="5.4" height="5.4"/>
<rect x="553.1" y="117.3" width="5.4" height="5.4"/>
<rect x="554.2" y="133.3" width="5.4" height="5.4"/>
<rect x="555.0" y="147.6" width="5.4" height="5.4"/>
<rect x="556.1" y="157.5" width="5.4" height="5.4"/>
<rect x="557.1" y="168.5" width="5.4" height="5.4"/>
<rect x="557.8" y="179.2" width="5.4" height="5.4"/>
<rect x="559.0" y="188.8" width="5.4" height="5.4"/>
<rect x="560.6" y="198.8" width="5.4" height="5.4"/>
<rect x="561.9" y="205.6" width="5.4" height="5.4"/>
<rect x="563.8" y="212.9" width="5.4" height="5.4"/>
<rect x="566.8" y="216.7" width="5.4" height="5.4"/>
<rect x="575.7" y="214.8" width="5.4" height="5.4"/>
<rect x="577.5" y="210.3" width="5.4" height="5.4"/>
<rect x="579.0" y="204.5" width="5.4" height="5.4"/>
<rect x="579.9" y="197.8" width="5.4" height="5.4"/>
<rect x="580.9" y="190.8" width="5.4" height="5.4"/>
<rect x="582.0" y="183.7" width="5.4" height="5.4"/>
<rect x="582.9" y="175.4" width="5.4" height="5.4"/>
<rect x="584.2" y="168.4" width="5.4" height="5.4"/>
<rect x="585.2" y="158.5" width="5.4" height="5.4"/>
<rect x="586.5" y="147.0" width="5.4" height="5.4"/>
<rect x="587.5" y="135.9" width="5.4" height="5.4"/>
<rect x="588.5" y="123.0" width="5.4" height="5.4"/>
<rect x="588.6" y="110.2" width="5.4" height="5.4"/>
<rect x="590.0" y="96.3" width="5.4" height="5.4"/>
<rect x="591.0" y="78.3" width="5.4" height="5.4"/>
<rect x="592.2" y="63.5" width="5.4" height="5.4"/>
<rect x="592.9" y="60.6" width="5.4" height="5.4"/>
<rect x="594.3" y="58.5" width="5.4" height="5.4"/>
<rect x="595.7" y="55.7" width="5.4" height="5.4"/>
<rect x="597.1" y="53.5" width="5.4" height="5.4"/>
<rect x="597.8" y="50.0" width="5.4" height="5.4"/>
<rect x="600.0" y="47.9" width="5.4" height="5.4"/>
<rect x="602.8" y="53.5" width="5.4" height="5.4"/>
<rect x="603.5" y="48.6" width="5.4" height="5.4"/>
<rect x="604.9" y="43.9" width="5.4" height="5.4"/>
<rect x="605.3" y="64.9" width="5.4" height="5.4"/>
<rect x="606.3" y="83.0" width="5.4" height="5.4"/>
<rect x="607.0" y="100.3" width="5.4" height="5.4"/>
<rect x="608.2" y="118.8" width="5.4" height="5.4"/>
<rect x="609.1" y="132.5" width="5.4" height="5.4"/>
<rect x="609.9" y="148.2" width="5.4" height="5.4"/>
<rect x="610.9" y="158.3" width="5.4" height="5.4"/>
<rect x="611.9" y="168.9" width="5.4" height="5.4"/>
<rect x="613.2" y="179.0" width="5.4" height="5.4"/>
<rect x="614.0" y="189.3" width="5.4" height="5.4"/>
<rect x="615.7" y="198.3" width="5.4" height="5.4"/>
<rect x="616.8" y="206.4" width="5.4" height="5.4"/>
<rect x="618.8" y="211.8" width="5.4" height="5.4"/>
<rect x="621.5" y="216.5" width="5.4" height="5.4"/>
<rect x="630.6" y="215.2" width="5.4" height="5.4"/>
<rect x="632.5" y="210.5" width="5.4" height="5.4"/>
<rect x="633.8" y="205.3" width="5.4" height="5.4"/>
<rect x="634.7" y="199.0" width="5.4" height="5.4"/>
<rect x="636.2" y="190.6" width="5.4" height="5.4"/>
<rect x="637.1" y="183.7" width="5.4" height="5.4"/>
<rect x="638.0" y="175.4" width="5.4" height="5.4"/>
<rect x="639.1" y="168.3" width="5.4" height="5.4"/>
<rect x="640.4" y="159.2" width="5.4" height="5.4"/>
<rect x="641.2" y="147.4" width="5.4" height="5.4"/>
<rect x="642.2" y="134.5" width="5.4" height="5.4"/>
<rect x="643.5" y="123.6" width="5.4" height="5.4"/>
<rect x="644.3" y="110.9" width="5.4" height="5.4"/>
<rect x="645.0" y="98.6" width="5.4" height="5.4"/>
<rect x="646.0" y="79.0" width="5.4" height="5.4"/>
<rect x="646.5" y="59.9" width="5.4" height="5.4"/>
<rect x="647.9" y="57.8" width="5.4" height="5.4"/>
<rect x="650.0" y="59.9" width="5.4" height="5.4"/>
<rect x="651.4" y="55.7" width="5.4" height="5.4"/>
<rect x="652.1" y="51.4" width="5.4" height="5.4"/>
<rect x="654.3" y="50.7" width="5.4" height="5.4"/>
<rect x="655.0" y="47.9" width="5.4" height="5.4"/>
<rect x="657.1" y="46.5" width="5.4" height="5.4"/>
<rect x="658.5" y="44.3" width="5.4" height="5.4"/>
<rect x="659.9" y="42.2" width="5.4" height="5.4"/>
<rect x="660.6" y="62.8" width="5.4" height="5.4"/>
<rect x="661.6" y="83.3" width="5.4" height="5.4"/>
<rect x="662.3" y="101.0" width="5.4" height="5.4"/>
<rect x="663.3" y="118.8" width="5.4" height="5.4"/>
<rect x="664.3" y="132.5" width="5.4" height="5.4"/>
<rect x="665.3" y="147.0" width="5.4" height="5.4"/>
<rect x="666.2" y="158.9" width="5.4" height="5.4"/>
<rect x="667.5" y="169.4" width="5.4" height="5.4"/>
<rect x="668.4" y="180.3" width="5.4" height="5.4"/>
<rect x="669.4" y="189.4" width="5.4" height="5.4"/>
<rect x="670.9" y="197.3" width="5.4" height="5.4"/>
<rect x="672.3" y="205.7" width="5.4" height="5.4"/>
<rect x="674.2" y="212.8" width="5.4" height="5.4"/>
<rect x="676.9" y="215.8" width="5.4" height="5.4"/>
<rect x="401.8" y="217.8" width="5.4" height="5.4"/>
<rect x="403.0" y="216.9" width="5.4" height="5.4"/>
<rect x="404.2" y="217.3" width="5.4" height="5.4"/>
<rect x="405.4" y="217.1" width="5.4" height="5.4"/>
<rect x="406.6" y="217.1" width="5.4" height="5.4"/>
<rect x="407.8" y="217.6" width="5.4" height="5.4"/>
<rect x="409.0" y="217.9" width="5.4" height="5.4"/>
<rect x="457.9" y="217.0" width="5.4" height="5.4"/>
<rect x="459.1" y="217.5" width="5.4" height="5.4"/>
<rect x="460.3" y="217.1" width="5.4" height="5.4"/>
<rect x="461.5" y="217.4" width="5.4" height="5.4"/>
<rect x="462.7" y="217.2" width="5.4" height="5.4"/>
<rect x="463.9" y="216.9" width="5.4" height="5.4"/>
<rect x="465.1" y="216.9" width="5.4" height="5.4"/>
<rect x="514.2" y="216.9" width="5.4" height="5.4"/>
<rect x="515.4" y="217.8" width="5.4" height="5.4"/>
<rect x="516.6" y="217.3" width="5.4" height="5.4"/>
<rect x="517.8" y="217.0" width="5.4" height="5.4"/>
<rect x="519.0" y="217.8" width="5.4" height="5.4"/>
<rect x="569.1" y="217.9" width="5.4" height="5.4"/>
<rect x="570.3" y="217.2" width="5.4" height="5.4"/>
<rect x="571.5" y="216.9" width="5.4" height="5.4"/>
<rect x="572.7" y="216.9" width="5.4" height="5.4"/>
<rect x="573.9" y="216.8" width="5.4" height="5.4"/>
<rect x="623.9" y="217.1" width="5.4" height="5.4"/>
<rect x="625.1" y="216.8" width="5.4" height="5.4"/>
<rect x="626.3" y="217.0" width="5.4" height="5.4"/>
<rect x="627.5" y="217.0" width="5.4" height="5.4"/>
<rect x="628.7" y="217.4" width="5.4" height="5.4"/>
<rect x="678.9" y="217.8" width="5.4" height="5.4"/>
<rect x="680.1" y="217.6" width="5.4" height="5.4"/>
<rect x="681.3" y="217.2" width="5.4" height="5.4"/>
</g>
<g clip-path="url(#cb)" fill="#ff0000">
<circle cx="416.1" cy="220.4" r="3.3"/>
<circle cx="417.2" cy="214.2" r="3.3"/>
<circle cx="418.2" cy="208.2" r="3.3"/>
<circle cx="419.2" cy="202.8" r="3.3"/>
<circle cx="420.3" cy="198.1" r="3.3"/>
<circle cx="421.4" cy="194.2" r="3.3"/>
<circle cx="422.4" cy="188.3" r="3.3"/>
<circle cx="423.5" cy="181.1" r="3.3"/>
<circle cx="424.5" cy="176.0" r="3.3"/>
<circle cx="425.6" cy="170.8" r="3.3"/>
<circle cx="426.6" cy="164.9" r="3.3"/>
<circle cx="427.7" cy="159.6" r="3.3"/>
<circle cx="428.7" cy="155.3" r="3.3"/>
<circle cx="429.8" cy="151.9" r="3.3"/>
<circle cx="430.8" cy="149.9" r="3.3"/>
<circle cx="431.9" cy="148.7" r="3.3"/>
<circle cx="432.9" cy="148.6" r="3.3"/>
<circle cx="434.0" cy="147.7" r="3.3"/>
<circle cx="435.0" cy="147.4" r="3.3"/>
<circle cx="436.1" cy="146.0" r="3.3"/>
<circle cx="437.1" cy="145.8" r="3.3"/>
<circle cx="438.2" cy="146.9" r="3.3"/>
<circle cx="439.2" cy="147.4" r="3.3"/>
<circle cx="440.3" cy="146.8" r="3.3"/>
<circle cx="441.3" cy="145.3" r="3.3"/>
<circle cx="442.4" cy="145.9" r="3.3"/>
<circle cx="443.4" cy="155.6" r="3.3"/>
<circle cx="444.5" cy="167.0" r="3.3"/>
<circle cx="445.5" cy="175.4" r="3.3"/>
<circle cx="446.6" cy="178.7" r="3.3"/>
<circle cx="447.6" cy="184.7" r="3.3"/>
<circle cx="448.7" cy="192.4" r="3.3"/>
<circle cx="449.7" cy="199.3" r="3.3"/>
<circle cx="450.8" cy="205.4" r="3.3"/>
<circle cx="451.8" cy="210.5" r="3.3"/>
<circle cx="452.9" cy="214.1" r="3.3"/>
<circle cx="453.9" cy="217.5" r="3.3"/>
<circle cx="455.0" cy="218.7" r="3.3"/>
<circle cx="456.0" cy="219.8" r="3.3"/>
<circle cx="457.1" cy="220.5" r="3.3"/>
<circle cx="458.1" cy="220.2" r="3.3"/>
<circle cx="459.1" cy="220.4" r="3.3"/>
<circle cx="460.2" cy="219.8" r="3.3"/>
<circle cx="461.2" cy="220.7" r="3.3"/>
<circle cx="472.4" cy="220.2" r="3.3"/>
<circle cx="473.4" cy="214.6" r="3.3"/>
<circle cx="474.5" cy="208.5" r="3.3"/>
<circle cx="475.5" cy="202.7" r="3.3"/>
<circle cx="476.6" cy="198.1" r="3.3"/>
<circle cx="477.6" cy="194.2" r="3.3"/>
<circle cx="478.7" cy="187.9" r="3.3"/>
<circle cx="479.8" cy="181.8" r="3.3"/>
<circle cx="480.8" cy="175.5" r="3.3"/>
<circle cx="481.8" cy="170.1" r="3.3"/>
<circle cx="482.9" cy="164.5" r="3.3"/>
<circle cx="483.9" cy="160.1" r="3.3"/>
<circle cx="485.0" cy="155.5" r="3.3"/>
<circle cx="486.0" cy="151.8" r="3.3"/>
<circle cx="487.1" cy="149.9" r="3.3"/>
<circle cx="488.1" cy="147.8" r="3.3"/>
<circle cx="489.2" cy="147.3" r="3.3"/>
<circle cx="490.2" cy="146.7" r="3.3"/>
<circle cx="491.3" cy="146.8" r="3.3"/>
<circle cx="492.3" cy="146.1" r="3.3"/>
<circle cx="493.4" cy="146.1" r="3.3"/>
<circle cx="494.4" cy="145.9" r="3.3"/>
<circle cx="495.5" cy="146.0" r="3.3"/>
<circle cx="496.6" cy="145.9" r="3.3"/>
<circle cx="497.6" cy="144.9" r="3.3"/>
<circle cx="498.6" cy="146.1" r="3.3"/>
<circle cx="499.7" cy="155.5" r="3.3"/>
<circle cx="500.8" cy="165.9" r="3.3"/>
<circle cx="501.8" cy="175.0" r="3.3"/>
<circle cx="502.8" cy="178.4" r="3.3"/>
<circle cx="503.9" cy="184.1" r="3.3"/>
<circle cx="504.9" cy="192.4" r="3.3"/>
<circle cx="506.0" cy="200.0" r="3.3"/>
<circle cx="507.0" cy="206.3" r="3.3"/>
<circle cx="508.1" cy="210.2" r="3.3"/>
<circle cx="509.1" cy="213.3" r="3.3"/>
<circle cx="510.2" cy="216.8" r="3.3"/>
<circle cx="511.2" cy="218.3" r="3.3"/>
<circle cx="512.3" cy="219.8" r="3.3"/>
<circle cx="513.3" cy="219.9" r="3.3"/>
<circle cx="514.4" cy="220.6" r="3.3"/>
<circle cx="515.4" cy="220.6" r="3.3"/>
<circle cx="516.5" cy="220.4" r="3.3"/>
<circle cx="517.5" cy="220.0" r="3.3"/>
<circle cx="527.3" cy="221.1" r="3.3"/>
<circle cx="528.3" cy="213.9" r="3.3"/>
<circle cx="529.4" cy="208.7" r="3.3"/>
<circle cx="530.4" cy="202.7" r="3.3"/>
<circle cx="531.5" cy="198.2" r="3.3"/>
<circle cx="532.5" cy="194.8" r="3.3"/>
<circle cx="533.6" cy="187.5" r="3.3"/>
<circle cx="534.6" cy="182.1" r="3.3"/>
<circle cx="535.7" cy="176.0" r="3.3"/>
<circle cx="536.8" cy="170.2" r="3.3"/>
<circle cx="537.8" cy="164.1" r="3.3"/>
<circle cx="538.8" cy="159.9" r="3.3"/>
<circle cx="539.9" cy="155.8" r="3.3"/>
<circle cx="540.9" cy="152.7" r="3.3"/>
<circle cx="542.0" cy="149.1" r="3.3"/>
<circle cx="543.0" cy="147.8" r="3.3"/>
<circle cx="544.1" cy="146.7" r="3.3"/>
<circle cx="545.1" cy="146.7" r="3.3"/>
<circle cx="546.2" cy="145.2" r="3.3"/>
<circle cx="547.2" cy="144.7" r="3.3"/>
<circle cx="548.3" cy="144.4" r="3.3"/>
<circle cx="549.3" cy="145.2" r="3.3"/>
<circle cx="550.4" cy="146.2" r="3.3"/>
<circle cx="551.4" cy="146.0" r="3.3"/>
<circle cx="552.5" cy="143.8" r="3.3"/>
<circle cx="553.5" cy="145.7" r="3.3"/>
<circle cx="554.6" cy="156.2" r="3.3"/>
<circle cx="555.6" cy="166.3" r="3.3"/>
<circle cx="556.7" cy="174.6" r="3.3"/>
<circle cx="557.8" cy="178.8" r="3.3"/>
<circle cx="558.8" cy="184.5" r="3.3"/>
<circle cx="559.8" cy="192.1" r="3.3"/>
<circle cx="560.9" cy="200.0" r="3.3"/>
<circle cx="561.9" cy="205.7" r="3.3"/>
<circle cx="563.0" cy="210.4" r="3.3"/>
<circle cx="564.0" cy="213.7" r="3.3"/>
<circle cx="565.1" cy="216.6" r="3.3"/>
<circle cx="566.1" cy="217.8" r="3.3"/>
<circle cx="567.2" cy="219.4" r="3.3"/>
<circle cx="568.2" cy="220.0" r="3.3"/>
<circle cx="569.3" cy="220.8" r="3.3"/>
<circle cx="570.3" cy="219.9" r="3.3"/>
<circle cx="571.4" cy="220.9" r="3.3"/>
<circle cx="572.4" cy="220.0" r="3.3"/>
<circle cx="582.1" cy="220.3" r="3.3"/>
<circle cx="583.1" cy="214.5" r="3.3"/>
<circle cx="584.2" cy="208.7" r="3.3"/>
<circle cx="585.2" cy="202.9" r="3.3"/>
<circle cx="586.3" cy="198.0" r="3.3"/>
<circle cx="587.4" cy="194.5" r="3.3"/>
<circle cx="588.4" cy="187.6" r="3.3"/>
<circle cx="589.5" cy="182.1" r="3.3"/>
<circle cx="590.5" cy="175.6" r="3.3"/>
<circle cx="591.6" cy="170.5" r="3.3"/>
<circle cx="592.6" cy="164.9" r="3.3"/>
<circle cx="593.6" cy="159.4" r="3.3"/>
<circle cx="594.7" cy="155.5" r="3.3"/>
<circle cx="595.8" cy="152.6" r="3.3"/>
<circle cx="596.8" cy="150.5" r="3.3"/>
<circle cx="597.9" cy="148.4" r="3.3"/>
<circle cx="598.9" cy="147.7" r="3.3"/>
<circle cx="600.0" cy="147.1" r="3.3"/>
<circle cx="601.0" cy="147.7" r="3.3"/>
<circle cx="602.1" cy="146.6" r="3.3"/>
<circle cx="603.1" cy="147.0" r="3.3"/>
<circle cx="604.1" cy="147.5" r="3.3"/>
<circle cx="605.2" cy="147.1" r="3.3"/>
<circle cx="606.2" cy="146.9" r="3.3"/>
<circle cx="607.3" cy="146.2" r="3.3"/>
<circle cx="608.4" cy="147.0" r="3.3"/>
<circle cx="609.4" cy="155.4" r="3.3"/>
<circle cx="610.5" cy="166.7" r="3.3"/>
<circle cx="611.5" cy="174.7" r="3.3"/>
<circle cx="612.6" cy="178.0" r="3.3"/>
<circle cx="613.6" cy="183.6" r="3.3"/>
<circle cx="614.7" cy="193.0" r="3.3"/>
<circle cx="615.7" cy="200.3" r="3.3"/>
<circle cx="616.8" cy="206.0" r="3.3"/>
<circle cx="617.8" cy="211.0" r="3.3"/>
<circle cx="618.9" cy="213.3" r="3.3"/>
<circle cx="619.9" cy="216.7" r="3.3"/>
<circle cx="621.0" cy="218.4" r="3.3"/>
<circle cx="622.0" cy="220.2" r="3.3"/>
<circle cx="623.0" cy="220.8" r="3.3"/>
<circle cx="624.1" cy="220.1" r="3.3"/>
<circle cx="625.1" cy="220.0" r="3.3"/>
<circle cx="626.2" cy="220.3" r="3.3"/>
<circle cx="627.2" cy="220.4" r="3.3"/>
<circle cx="637.1" cy="221.0" r="3.3"/>
<circle cx="638.1" cy="213.7" r="3.3"/>
<circle cx="639.2" cy="208.7" r="3.3"/>
<circle cx="640.2" cy="203.3" r="3.3"/>
<circle cx="641.3" cy="199.0" r="3.3"/>
<circle cx="642.4" cy="194.8" r="3.3"/>
<circle cx="643.4" cy="187.9" r="3.3"/>
<circle cx="644.5" cy="181.4" r="3.3"/>
<circle cx="645.5" cy="175.8" r="3.3"/>
<circle cx="646.6" cy="170.5" r="3.3"/>
<circle cx="647.6" cy="164.8" r="3.3"/>
<circle cx="648.6" cy="159.5" r="3.3"/>
<circle cx="649.7" cy="155.2" r="3.3"/>
<circle cx="650.8" cy="152.5" r="3.3"/>
<circle cx="651.8" cy="149.5" r="3.3"/>
<circle cx="652.9" cy="147.8" r="3.3"/>
<circle cx="653.9" cy="147.0" r="3.3"/>
<circle cx="655.0" cy="146.8" r="3.3"/>
<circle cx="656.0" cy="146.1" r="3.3"/>
<circle cx="657.1" cy="146.5" r="3.3"/>
<circle cx="658.1" cy="146.1" r="3.3"/>
<circle cx="659.1" cy="146.6" r="3.3"/>
<circle cx="660.2" cy="146.0" r="3.3"/>
<circle cx="661.2" cy="145.7" r="3.3"/>
<circle cx="662.3" cy="143.9" r="3.3"/>
<circle cx="663.4" cy="145.8" r="3.3"/>
<circle cx="664.4" cy="156.0" r="3.3"/>
<circle cx="665.5" cy="166.4" r="3.3"/>
<circle cx="666.5" cy="174.6" r="3.3"/>
<circle cx="667.6" cy="178.1" r="3.3"/>
<circle cx="668.6" cy="184.3" r="3.3"/>
<circle cx="669.7" cy="192.9" r="3.3"/>
<circle cx="670.7" cy="200.1" r="3.3"/>
<circle cx="671.8" cy="206.2" r="3.3"/>
<circle cx="672.8" cy="210.7" r="3.3"/>
<circle cx="673.9" cy="213.5" r="3.3"/>
<circle cx="674.9" cy="217.4" r="3.3"/>
<circle cx="676.0" cy="218.2" r="3.3"/>
<circle cx="677.0" cy="219.7" r="3.3"/>
<circle cx="678.0" cy="220.1" r="3.3"/>
<circle cx="679.1" cy="220.6" r="3.3"/>
<circle cx="680.1" cy="219.9" r="3.3"/>
<circle cx="681.2" cy="220.0" r="3.3"/>
<circle cx="682.2" cy="220.1" r="3.3"/>
<circle cx="406.0" cy="220.4" r="3.3"/>
<circle cx="407.1" cy="221.6" r="3.3"/>
<circle cx="408.2" cy="221.1" r="3.3"/>
<circle cx="409.3" cy="220.7" r="3.3"/>
<circle cx="410.4" cy="220.8" r="3.3"/>
<circle cx="411.5" cy="221.8" r="3.3"/>
<circle cx="412.6" cy="221.0" r="3.3"/>
<circle cx="413.7" cy="220.6" r="3.3"/>
<circle cx="414.8" cy="221.5" r="3.3"/>
<circle cx="415.9" cy="221.2" r="3.3"/>
<circle cx="462.4" cy="221.8" r="3.3"/>
<circle cx="463.5" cy="220.4" r="3.3"/>
<circle cx="464.6" cy="221.0" r="3.3"/>
<circle cx="465.7" cy="221.5" r="3.3"/>
<circle cx="466.8" cy="221.5" r="3.3"/>
<circle cx="467.9" cy="221.7" r="3.3"/>
<circle cx="469.0" cy="220.3" r="3.3"/>
<circle cx="470.1" cy="220.7" r="3.3"/>
<circle cx="471.2" cy="220.4" r="3.3"/>
<circle cx="518.7" cy="220.5" r="3.3"/>
<circle cx="519.8" cy="221.8" r="3.3"/>
<circle cx="520.9" cy="221.1" r="3.3"/>
<circle cx="522.0" cy="221.7" r="3.3"/>
<circle cx="523.1" cy="220.8" r="3.3"/>
<circle cx="524.2" cy="221.6" r="3.3"/>
<circle cx="525.3" cy="220.9" r="3.3"/>
<circle cx="573.6" cy="220.6" r="3.3"/>
<circle cx="574.7" cy="221.4" r="3.3"/>
<circle cx="575.8" cy="221.7" r="3.3"/>
<circle cx="576.9" cy="220.4" r="3.3"/>
<circle cx="578.0" cy="221.2" r="3.3"/>
<circle cx="579.1" cy="221.2" r="3.3"/>
<circle cx="580.2" cy="220.5" r="3.3"/>
<circle cx="628.4" cy="220.8" r="3.3"/>
<circle cx="629.5" cy="220.4" r="3.3"/>
<circle cx="630.6" cy="220.5" r="3.3"/>
<circle cx="631.7" cy="220.6" r="3.3"/>
<circle cx="632.8" cy="221.2" r="3.3"/>
<circle cx="633.9" cy="221.2" r="3.3"/>
<circle cx="635.0" cy="220.5" r="3.3"/>
<circle cx="683.4" cy="220.2" r="3.3"/>
<circle cx="684.5" cy="220.7" r="3.3"/>
<circle cx="685.6" cy="221.3" r="3.3"/>
</g>
<path d="M403.7,225.0 L416.1,225.0 L432.2,103.2 L444.6,103.2 L460.0,225.0 L472.4,225.0 L488.5,104.4 L499.6,104.4 L515.0,225.3 L527.3,225.3 L542.7,104.7 L556.0,104.7 L570.9,225.5 L582.1,225.5 L597.4,104.7 L609.8,104.7 L625.0,225.5 L637.1,225.5 L652.7,104.7 L661.9,104.7 L676.7,225.5 L689.1,225.5" fill="none" stroke="#000" stroke-width="2" stroke-linejoin="miter"/>
<rect x="403.8" y="1" width="308.09999999999997" height="240.1" fill="none" stroke="#000" stroke-width="1.8"/>
<text x="403.7" y="260.4" font-family="Liberation Serif" font-size="18.5" text-anchor="middle" font-weight="normal" font-style="normal" >0</text>
<text x="447.7" y="260.4" font-family="Liberation Serif" font-size="18.5" text-anchor="middle" font-weight="normal" font-style="normal" >50</text>
<text x="491.8" y="260.4" font-family="Liberation Serif" font-size="18.5" text-anchor="middle" font-weight="normal" font-style="normal" >100</text>
<text x="535.8" y="260.4" font-family="Liberation Serif" font-size="18.5" text-anchor="middle" font-weight="normal" font-style="normal" >150</text>
<text x="579.8" y="260.4" font-family="Liberation Serif" font-size="18.5" text-anchor="middle" font-weight="normal" font-style="normal" >200</text>
<text x="623.9" y="260.4" font-family="Liberation Serif" font-size="18.5" text-anchor="middle" font-weight="normal" font-style="normal" >250</text>
<text x="667.9" y="260.4" font-family="Liberation Serif" font-size="18.5" text-anchor="middle" font-weight="normal" font-style="normal" >300</text>
<text x="711.9" y="260.4" font-family="Liberation Serif" font-size="18.5" text-anchor="middle" font-weight="normal" font-style="normal" >350</text>
<text x="558.6" y="274.8" font-family="Liberation Serif" font-size="18.1" text-anchor="middle" font-weight="normal" font-style="normal" >Time (s)</text>
<text transform="translate(392.9,113) rotate(-90)" font-family="Liberation Serif" font-size="15.5" font-style="italic" text-anchor="middle">ΔR<tspan font-size="17" dx="0.3"> or </tspan><tspan font-size="19.5">ε</tspan></text>
<text x="409.3" y="19.8" font-family="Liberation Serif" font-size="19" text-anchor="start" font-weight="bold" font-style="normal" >(b)</text>
<text x="670.5" y="61.7" font-family="Liberation Serif" font-size="17.5" text-anchor="start" font-weight="normal" font-style="normal" >ΔR</text>
<text x="693.0" y="68.6" font-family="Liberation Serif" font-size="10.5" text-anchor="start" font-weight="normal" font-style="italic" >//</text>
<text x="678.4" y="114.6" font-family="Liberation Serif" font-size="26" text-anchor="start" font-weight="normal" font-style="italic" textLength="11.6" lengthAdjust="spacingAndGlyphs">ε</text>
<text x="672.0" y="149.8" font-family="Liberation Serif" font-size="17.5" text-anchor="start" font-weight="normal" font-style="normal" >ΔR</text>
<text x="695.0" y="156.6" font-family="Liberation Serif" font-size="9.5" text-anchor="start" font-weight="normal" font-style="normal" >⊥</text>
<g clip-path="url(#cc)" fill="#ff0000">
<circle cx="50.0" cy="315.8" r="5.6"/>
<circle cx="51.5" cy="316.6" r="5.6"/>
<circle cx="52.9" cy="317.1" r="5.6"/>
<circle cx="54.4" cy="318.3" r="5.6"/>
<circle cx="55.8" cy="318.7" r="5.6"/>
<circle cx="57.3" cy="319.0" r="5.6"/>
<circle cx="58.7" cy="319.7" r="5.6"/>
<circle cx="60.2" cy="320.6" r="5.6"/>
<circle cx="61.7" cy="321.4" r="5.6"/>
<circle cx="63.1" cy="322.1" r="5.6"/>
<circle cx="64.6" cy="322.4" r="5.6"/>
<circle cx="66.0" cy="323.1" r="5.6"/>
<circle cx="67.4" cy="324.2" r="5.6"/>
<circle cx="68.9" cy="324.7" r="5.6"/>
<circle cx="70.3" cy="325.3" r="5.6"/>
<circle cx="71.8" cy="326.0" r="5.6"/>
<circle cx="73.2" cy="327.2" r="5.6"/>
<circle cx="74.6" cy="327.4" r="5.6"/>
<circle cx="76.1" cy="328.3" r="5.6"/>
<circle cx="77.5" cy="328.9" r="5.6"/>
<circle cx="78.9" cy="329.6" r="5.6"/>
<circle cx="80.4" cy="330.7" r="5.6"/>
<circle cx="81.8" cy="331.5" r="5.6"/>
<circle cx="83.2" cy="331.8" r="5.6"/>
<circle cx="84.6" cy="332.4" r="5.6"/>
<circle cx="86.1" cy="333.5" r="5.6"/>
<circle cx="87.5" cy="333.8" r="5.6"/>
<circle cx="88.9" cy="334.4" r="5.6"/>
<circle cx="90.3" cy="335.9" r="5.6"/>
<circle cx="91.7" cy="336.3" r="5.6"/>
<circle cx="93.1" cy="337.3" r="5.6"/>
<circle cx="94.6" cy="337.8" r="5.6"/>
<circle cx="96.0" cy="338.9" r="5.6"/>
<circle cx="97.4" cy="339.3" r="5.6"/>
<circle cx="98.8" cy="339.9" r="5.6"/>
<circle cx="100.2" cy="340.5" r="5.6"/>
<circle cx="101.6" cy="341.7" r="5.6"/>
<circle cx="103.0" cy="342.6" r="5.6"/>
<circle cx="104.4" cy="343.6" r="5.6"/>
<circle cx="105.8" cy="343.7" r="5.6"/>
<circle cx="107.1" cy="344.9" r="5.6"/>
<circle cx="108.5" cy="345.5" r="5.6"/>
<circle cx="109.9" cy="346.4" r="5.6"/>
<circle cx="111.3" cy="346.9" r="5.6"/>
<circle cx="112.7" cy="347.8" r="5.6"/>
<circle cx="114.1" cy="348.8" r="5.6"/>
<circle cx="115.4" cy="350.0" r="5.6"/>
<circle cx="116.8" cy="350.1" r="5.6"/>
<circle cx="118.2" cy="351.3" r="5.6"/>
<circle cx="119.6" cy="352.4" r="5.6"/>
<circle cx="120.9" cy="353.3" r="5.6"/>
<circle cx="122.3" cy="353.5" r="5.6"/>
<circle cx="123.7" cy="354.3" r="5.6"/>
<circle cx="125.0" cy="355.8" r="5.6"/>
<circle cx="126.4" cy="356.7" r="5.6"/>
<circle cx="127.7" cy="357.1" r="5.6"/>
<circle cx="129.1" cy="357.6" r="5.6"/>
<circle cx="130.5" cy="359.2" r="5.6"/>
<circle cx="131.8" cy="359.6" r="5.6"/>
<circle cx="133.2" cy="360.9" r="5.6"/>
<circle cx="134.5" cy="361.5" r="5.6"/>
<circle cx="135.8" cy="362.5" r="5.6"/>
<circle cx="137.2" cy="362.9" r="5.6"/>
<circle cx="138.5" cy="364.3" r="5.6"/>
<circle cx="139.9" cy="364.7" r="5.6"/>
<circle cx="141.2" cy="365.7" r="5.6"/>
<circle cx="142.5" cy="366.9" r="5.6"/>
<circle cx="143.9" cy="367.8" r="5.6"/>
<circle cx="145.2" cy="368.2" r="5.6"/>
<circle cx="146.5" cy="369.1" r="5.6"/>
<circle cx="147.9" cy="370.1" r="5.6"/>
<circle cx="149.2" cy="371.1" r="5.6"/>
<circle cx="150.5" cy="371.9" r="5.6"/>
<circle cx="151.8" cy="372.6" r="5.6"/>
<circle cx="153.2" cy="373.6" r="5.6"/>
<circle cx="154.5" cy="374.9" r="5.6"/>
<circle cx="155.8" cy="376.0" r="5.6"/>
<circle cx="157.1" cy="376.2" r="5.6"/>
<circle cx="158.4" cy="377.5" r="5.6"/>
<circle cx="159.7" cy="378.6" r="5.6"/>
<circle cx="161.0" cy="378.9" r="5.6"/>
<circle cx="162.3" cy="380.5" r="5.6"/>
<circle cx="163.6" cy="380.8" r="5.6"/>
<circle cx="164.9" cy="382.2" r="5.6"/>
<circle cx="166.2" cy="383.1" r="5.6"/>
<circle cx="167.5" cy="384.0" r="5.6"/>
<circle cx="168.8" cy="384.7" r="5.6"/>
<circle cx="170.1" cy="385.8" r="5.6"/>
<circle cx="171.4" cy="386.8" r="5.6"/>
<circle cx="172.7" cy="387.6" r="5.6"/>
<circle cx="174.0" cy="388.8" r="5.6"/>
<circle cx="175.3" cy="389.5" r="5.6"/>
<circle cx="176.6" cy="390.5" r="5.6"/>
<circle cx="177.9" cy="391.1" r="5.6"/>
<circle cx="179.2" cy="392.5" r="5.6"/>
<circle cx="180.5" cy="393.4" r="5.6"/>
<circle cx="181.8" cy="394.1" r="5.6"/>
<circle cx="183.0" cy="395.5" r="5.6"/>
<circle cx="184.3" cy="396.5" r="5.6"/>
<circle cx="185.6" cy="397.2" r="5.6"/>
<circle cx="186.9" cy="397.9" r="5.6"/>
<circle cx="188.2" cy="399.1" r="5.6"/>
<circle cx="189.4" cy="399.8" r="5.6"/>
<circle cx="190.7" cy="400.8" r="5.6"/>
<circle cx="192.0" cy="402.0" r="5.6"/>
<circle cx="193.3" cy="402.7" r="5.6"/>
<circle cx="194.5" cy="403.9" r="5.6"/>
<circle cx="195.8" cy="404.9" r="5.6"/>
<circle cx="197.1" cy="405.5" r="5.6"/>
<circle cx="198.4" cy="407.0" r="5.6"/>
<circle cx="199.6" cy="407.5" r="5.6"/>
<circle cx="200.9" cy="409.0" r="5.6"/>
<circle cx="202.2" cy="410.0" r="5.6"/>
<circle cx="203.4" cy="410.8" r="5.6"/>
<circle cx="204.7" cy="411.4" r="5.6"/>
<circle cx="206.0" cy="412.7" r="5.6"/>
<circle cx="207.2" cy="413.6" r="5.6"/>
<circle cx="208.5" cy="415.0" r="5.6"/>
<circle cx="209.8" cy="415.4" r="5.6"/>
<circle cx="211.0" cy="416.9" r="5.6"/>
<circle cx="212.3" cy="418.0" r="5.6"/>
<circle cx="213.6" cy="418.8" r="5.6"/>
<circle cx="214.8" cy="419.8" r="5.6"/>
<circle cx="216.1" cy="420.3" r="5.6"/>
<circle cx="217.4" cy="421.9" r="5.6"/>
<circle cx="218.6" cy="422.5" r="5.6"/>
<circle cx="219.9" cy="423.9" r="5.6"/>
<circle cx="221.2" cy="424.8" r="5.6"/>
<circle cx="222.4" cy="425.2" r="5.6"/>
<circle cx="223.7" cy="426.7" r="5.6"/>
<circle cx="224.9" cy="427.7" r="5.6"/>
<circle cx="226.2" cy="428.0" r="5.6"/>
<circle cx="227.5" cy="429.2" r="5.6"/>
<circle cx="228.7" cy="430.5" r="5.6"/>
<circle cx="230.0" cy="431.0" r="5.6"/>
<circle cx="231.3" cy="432.6" r="5.6"/>
<circle cx="232.5" cy="433.1" r="5.6"/>
<circle cx="233.8" cy="434.5" r="5.6"/>
<circle cx="235.1" cy="434.9" r="5.6"/>
<circle cx="236.4" cy="436.2" r="5.6"/>
<circle cx="237.6" cy="437.5" r="5.6"/>
<circle cx="238.9" cy="437.9" r="5.6"/>
<circle cx="240.2" cy="438.9" r="5.6"/>
<circle cx="241.4" cy="440.1" r="5.6"/>
<circle cx="242.7" cy="440.9" r="5.6"/>
<circle cx="244.0" cy="441.6" r="5.6"/>
<circle cx="245.3" cy="442.7" r="5.6"/>
<circle cx="246.5" cy="443.7" r="5.6"/>
<circle cx="247.8" cy="445.2" r="5.6"/>
<circle cx="249.1" cy="446.0" r="5.6"/>
<circle cx="250.4" cy="447.1" r="5.6"/>
<circle cx="251.7" cy="447.5" r="5.6"/>
<circle cx="253.0" cy="448.9" r="5.6"/>
<circle cx="254.2" cy="449.4" r="5.6"/>
<circle cx="255.5" cy="450.6" r="5.6"/>
<circle cx="256.8" cy="451.7" r="5.6"/>
<circle cx="258.1" cy="452.4" r="5.6"/>
<circle cx="259.4" cy="453.7" r="5.6"/>
<circle cx="260.7" cy="454.4" r="5.6"/>
<circle cx="262.0" cy="455.4" r="5.6"/>
<circle cx="263.3" cy="456.5" r="5.6"/>
<circle cx="264.6" cy="456.8" r="5.6"/>
<circle cx="265.9" cy="458.5" r="5.6"/>
<circle cx="267.2" cy="459.1" r="5.6"/>
<circle cx="268.5" cy="459.8" r="5.6"/>
<circle cx="269.9" cy="461.1" r="5.6"/>
<circle cx="271.2" cy="461.6" r="5.6"/>
<circle cx="272.5" cy="463.0" r="5.6"/>
<circle cx="273.8" cy="463.6" r="5.6"/>
<circle cx="275.2" cy="464.3" r="5.6"/>
<circle cx="276.5" cy="465.5" r="5.6"/>
<circle cx="277.8" cy="466.2" r="5.6"/>
<circle cx="279.1" cy="466.8" r="5.6"/>
<circle cx="280.5" cy="468.2" r="5.6"/>
<circle cx="281.8" cy="468.5" r="5.6"/>
<circle cx="283.2" cy="470.0" r="5.6"/>
<circle cx="284.5" cy="470.4" r="5.6"/>
<circle cx="285.9" cy="471.5" r="5.6"/>
<circle cx="287.2" cy="472.6" r="5.6"/>
<circle cx="288.6" cy="473.2" r="5.6"/>
<circle cx="290.0" cy="474.0" r="5.6"/>
<circle cx="291.4" cy="474.6" r="5.6"/>
<circle cx="292.7" cy="475.2" r="5.6"/>
<circle cx="294.1" cy="476.0" r="5.6"/>
<circle cx="295.5" cy="476.9" r="5.6"/>
<circle cx="296.9" cy="478.0" r="5.6"/>
<circle cx="298.3" cy="478.7" r="5.6"/>
<circle cx="299.7" cy="479.5" r="5.6"/>
<circle cx="301.1" cy="480.6" r="5.6"/>
<circle cx="302.5" cy="480.7" r="5.6"/>
<circle cx="303.9" cy="481.5" r="5.6"/>
<circle cx="305.3" cy="482.6" r="5.6"/>
<circle cx="306.8" cy="482.8" r="5.6"/>
<circle cx="308.2" cy="483.5" r="5.6"/>
<circle cx="309.6" cy="484.5" r="5.6"/>
<circle cx="311.1" cy="485.0" r="5.6"/>
<circle cx="312.5" cy="485.9" r="5.6"/>
<circle cx="314.0" cy="486.4" r="5.6"/>
<circle cx="315.5" cy="487.4" r="5.6"/>
<circle cx="316.9" cy="488.0" r="5.6"/>
<circle cx="318.4" cy="488.3" r="5.6"/>
<circle cx="319.9" cy="489.2" r="5.6"/>
<circle cx="321.4" cy="489.7" r="5.6"/>
<circle cx="322.9" cy="490.0" r="5.6"/>
<circle cx="324.4" cy="491.2" r="5.6"/>
<circle cx="325.9" cy="491.2" r="5.6"/>
<circle cx="327.4" cy="491.6" r="5.6"/>
<circle cx="328.9" cy="492.0" r="5.6"/>
<circle cx="330.5" cy="493.0" r="5.6"/>
<circle cx="332.0" cy="493.6" r="5.6"/>
<circle cx="333.5" cy="494.0" r="5.6"/>
<circle cx="335.1" cy="494.1" r="5.6"/>
<circle cx="336.6" cy="494.3" r="5.6"/>
<circle cx="338.2" cy="494.5" r="5.6"/>
<circle cx="339.8" cy="495.3" r="5.6"/>
<circle cx="341.3" cy="495.6" r="5.6"/>
<circle cx="342.9" cy="495.7" r="5.6"/>
<circle cx="344.5" cy="496.2" r="5.6"/>
<circle cx="346.1" cy="496.2" r="5.6"/>
<circle cx="347.7" cy="496.8" r="5.6"/>
<circle cx="349.2" cy="496.8" r="5.6"/>
<circle cx="350.8" cy="496.6" r="5.6"/>
<circle cx="352.4" cy="497.2" r="5.6"/>
<circle cx="354.0" cy="496.6" r="5.6"/>
<circle cx="355.6" cy="497.0" r="5.6"/>
<circle cx="357.2" cy="497.0" r="5.6"/>
<circle cx="358.8" cy="496.8" r="5.6"/>
<circle cx="360.4" cy="496.6" r="5.6"/>
<circle cx="362.0" cy="497.1" r="5.6"/>
<circle cx="363.6" cy="496.3" r="5.6"/>
</g>
<rect x="56.3" y="287.3" width="316.0" height="235.3" fill="none" stroke="#000" stroke-width="1.8"/>
<text x="50.4" y="528.9" font-family="Liberation Serif" font-size="19" text-anchor="end" font-weight="normal" font-style="normal" >1.0</text>
<text x="50.4" y="495.3" font-family="Liberation Serif" font-size="19" text-anchor="end" font-weight="normal" font-style="normal" >1.2</text>
<text x="50.4" y="461.7" font-family="Liberation Serif" font-size="19" text-anchor="end" font-weight="normal" font-style="normal" >1.4</text>
<text x="50.4" y="428.1" font-family="Liberation Serif" font-size="19" text-anchor="end" font-weight="normal" font-style="normal" >1.6</text>
<text x="50.4" y="394.4" font-family="Liberation Serif" font-size="19" text-anchor="end" font-weight="normal" font-style="normal" >1.8</text>
<text x="50.4" y="360.8" font-family="Liberation Serif" font-size="19" text-anchor="end" font-weight="normal" font-style="normal" >2.0</text>
<text x="50.4" y="327.2" font-family="Liberation Serif" font-size="19" text-anchor="end" font-weight="normal" font-style="normal" >2.2</text>
<text x="50.4" y="293.6" font-family="Liberation Serif" font-size="19" text-anchor="end" font-weight="normal" font-style="normal" >2.4</text>
<text x="94.1" y="542.2" font-family="Liberation Serif" font-size="19" text-anchor="middle" font-weight="normal" font-style="normal" >280</text>
<text x="171.3" y="542.2" font-family="Liberation Serif" font-size="19" text-anchor="middle" font-weight="normal" font-style="normal" >300</text>
<text x="248.5" y="542.2" font-family="Liberation Serif" font-size="19" text-anchor="middle" font-weight="normal" font-style="normal" >320</text>
<text x="325.7" y="542.2" font-family="Liberation Serif" font-size="19" text-anchor="middle" font-weight="normal" font-style="normal" >340</text>
<text x="214.2" y="560.4" font-family="Liberation Serif" font-size="18.3" text-anchor="middle" font-weight="normal" font-style="normal" >Temperature (K)</text>
<text transform="translate(24.2,411.3) rotate(-90)" font-family="Liberation Serif" font-size="19" text-anchor="middle">R (MΩ)</text>
<text x="59.4" y="305.3" font-family="Liberation Serif" font-size="19.5" text-anchor="start" font-weight="bold" font-style="normal" >(c)</text>
<g clip-path="url(#cd)" fill="none" stroke="#1f1fff" stroke-width="0.95">
<rect x="397.7" y="483.5" width="5.4" height="5.4"/>
<rect x="397.7" y="482.0" width="5.4" height="5.4"/>
<rect x="398.7" y="483.7" width="5.4" height="5.4"/>
<rect x="399.7" y="483.8" width="5.4" height="5.4"/>
<rect x="399.9" y="482.1" width="5.4" height="5.4"/>
<rect x="400.3" y="482.2" width="5.4" height="5.4"/>
<rect x="401.8" y="483.8" width="5.4" height="5.4"/>
<rect x="401.7" y="482.7" width="5.4" height="5.4"/>
<rect x="403.1" y="482.6" width="5.4" height="5.4"/>
<rect x="403.7" y="479.3" width="5.4" height="5.4"/>
<rect x="403.8" y="478.0" width="5.4" height="5.4"/>
<rect x="404.2" y="476.4" width="5.4" height="5.4"/>
<rect x="404.7" y="475.0" width="5.4" height="5.4"/>
<rect x="405.2" y="474.6" width="5.4" height="5.4"/>
<rect x="405.6" y="473.5" width="5.4" height="5.4"/>
<rect x="405.9" y="471.6" width="5.4" height="5.4"/>
<rect x="406.4" y="470.5" width="5.4" height="5.4"/>
<rect x="406.5" y="469.4" width="5.4" height="5.4"/>
<rect x="407.3" y="468.3" width="5.4" height="5.4"/>
<rect x="407.6" y="466.5" width="5.4" height="5.4"/>
<rect x="407.7" y="465.0" width="5.4" height="5.4"/>
<rect x="408.3" y="464.1" width="5.4" height="5.4"/>
<rect x="408.7" y="463.7" width="5.4" height="5.4"/>
<rect x="409.1" y="461.7" width="5.4" height="5.4"/>
<rect x="409.2" y="460.1" width="5.4" height="5.4"/>
<rect x="409.7" y="458.9" width="5.4" height="5.4"/>
<rect x="410.1" y="456.7" width="5.4" height="5.4"/>
<rect x="410.4" y="455.2" width="5.4" height="5.4"/>
<rect x="410.9" y="453.1" width="5.4" height="5.4"/>
<rect x="411.2" y="451.2" width="5.4" height="5.4"/>
<rect x="411.6" y="449.2" width="5.4" height="5.4"/>
<rect x="411.8" y="446.8" width="5.4" height="5.4"/>
<rect x="412.1" y="445.2" width="5.4" height="5.4"/>
<rect x="412.5" y="443.7" width="5.4" height="5.4"/>
<rect x="412.9" y="440.7" width="5.4" height="5.4"/>
<rect x="413.4" y="439.9" width="5.4" height="5.4"/>
<rect x="413.6" y="437.1" width="5.4" height="5.4"/>
<rect x="414.3" y="434.9" width="5.4" height="5.4"/>
<rect x="414.7" y="433.4" width="5.4" height="5.4"/>
<rect x="414.8" y="431.2" width="5.4" height="5.4"/>
<rect x="415.3" y="428.8" width="5.4" height="5.4"/>
<rect x="415.9" y="426.8" width="5.4" height="5.4"/>
<rect x="415.9" y="424.6" width="5.4" height="5.4"/>
<rect x="416.7" y="422.4" width="5.4" height="5.4"/>
<rect x="416.7" y="420.2" width="5.4" height="5.4"/>
<rect x="417.1" y="417.0" width="5.4" height="5.4"/>
<rect x="417.8" y="414.6" width="5.4" height="5.4"/>
<rect x="418.1" y="412.7" width="5.4" height="5.4"/>
<rect x="418.5" y="409.7" width="5.4" height="5.4"/>
<rect x="418.6" y="405.9" width="5.4" height="5.4"/>
<rect x="419.3" y="402.6" width="5.4" height="5.4"/>
<rect x="419.5" y="399.7" width="5.4" height="5.4"/>
<rect x="419.7" y="396.9" width="5.4" height="5.4"/>
<rect x="420.2" y="393.6" width="5.4" height="5.4"/>
<rect x="420.6" y="391.0" width="5.4" height="5.4"/>
<rect x="421.3" y="387.5" width="5.4" height="5.4"/>
<rect x="421.6" y="384.6" width="5.4" height="5.4"/>
<rect x="421.6" y="383.3" width="5.4" height="5.4"/>
<rect x="422.2" y="381.9" width="5.4" height="5.4"/>
<rect x="422.5" y="381.1" width="5.4" height="5.4"/>
<rect x="423.0" y="379.7" width="5.4" height="5.4"/>
<rect x="423.5" y="384.8" width="5.4" height="5.4"/>
<rect x="424.1" y="381.5" width="5.4" height="5.4"/>
<rect x="424.4" y="378.5" width="5.4" height="5.4"/>
<rect x="425.3" y="375.5" width="5.4" height="5.4"/>
<rect x="425.6" y="374.0" width="5.4" height="5.4"/>
<rect x="426.5" y="369.9" width="5.4" height="5.4"/>
<rect x="427.0" y="384.4" width="5.4" height="5.4"/>
<rect x="427.6" y="380.7" width="5.4" height="5.4"/>
<rect x="428.2" y="378.3" width="5.4" height="5.4"/>
<rect x="428.9" y="375.4" width="5.4" height="5.4"/>
<rect x="429.6" y="370.8" width="5.4" height="5.4"/>
<rect x="430.0" y="385.3" width="5.4" height="5.4"/>
<rect x="430.6" y="382.5" width="5.4" height="5.4"/>
<rect x="431.5" y="379.7" width="5.4" height="5.4"/>
<rect x="432.1" y="376.6" width="5.4" height="5.4"/>
<rect x="432.6" y="372.6" width="5.4" height="5.4"/>
<rect x="433.4" y="369.6" width="5.4" height="5.4"/>
<rect x="434.0" y="382.4" width="5.4" height="5.4"/>
<rect x="434.5" y="385.9" width="5.4" height="5.4"/>
<rect x="435.5" y="390.1" width="5.4" height="5.4"/>
<rect x="436.0" y="395.6" width="5.4" height="5.4"/>
<rect x="436.7" y="401.2" width="5.4" height="5.4"/>
<rect x="437.5" y="406.0" width="5.4" height="5.4"/>
<rect x="438.3" y="411.3" width="5.4" height="5.4"/>
<rect x="438.9" y="416.1" width="5.4" height="5.4"/>
<rect x="439.6" y="420.7" width="5.4" height="5.4"/>
<rect x="440.4" y="426.1" width="5.4" height="5.4"/>
<rect x="441.0" y="431.4" width="5.4" height="5.4"/>
<rect x="441.9" y="437.7" width="5.4" height="5.4"/>
<rect x="442.4" y="444.4" width="5.4" height="5.4"/>
<rect x="443.4" y="450.9" width="5.4" height="5.4"/>
<rect x="443.9" y="456.5" width="5.4" height="5.4"/>
<rect x="444.8" y="462.3" width="5.4" height="5.4"/>
<rect x="445.3" y="468.6" width="5.4" height="5.4"/>
<rect x="446.1" y="472.3" width="5.4" height="5.4"/>
<rect x="446.9" y="475.4" width="5.4" height="5.4"/>
<rect x="447.5" y="478.1" width="5.4" height="5.4"/>
<rect x="448.4" y="481.0" width="5.4" height="5.4"/>
<rect x="448.6" y="482.6" width="5.4" height="5.4"/>
<rect x="449.3" y="484.0" width="5.4" height="5.4"/>
<rect x="450.9" y="482.4" width="5.4" height="5.4"/>
<rect x="451.4" y="484.4" width="5.4" height="5.4"/>
<rect x="451.5" y="483.6" width="5.4" height="5.4"/>
<rect x="452.1" y="483.9" width="5.4" height="5.4"/>
<rect x="453.1" y="481.9" width="5.4" height="5.4"/>
<rect x="453.8" y="480.9" width="5.4" height="5.4"/>
<rect x="454.8" y="483.2" width="5.4" height="5.4"/>
<rect x="455.5" y="481.8" width="5.4" height="5.4"/>
<rect x="455.7" y="481.3" width="5.4" height="5.4"/>
<rect x="456.7" y="479.1" width="5.4" height="5.4"/>
<rect x="457.3" y="477.5" width="5.4" height="5.4"/>
<rect x="457.5" y="475.4" width="5.4" height="5.4"/>
<rect x="457.8" y="474.1" width="5.4" height="5.4"/>
<rect x="458.4" y="471.8" width="5.4" height="5.4"/>
<rect x="458.8" y="470.8" width="5.4" height="5.4"/>
<rect x="459.2" y="468.9" width="5.4" height="5.4"/>
<rect x="459.5" y="466.9" width="5.4" height="5.4"/>
<rect x="459.7" y="463.8" width="5.4" height="5.4"/>
<rect x="459.9" y="461.2" width="5.4" height="5.4"/>
<rect x="460.7" y="458.1" width="5.4" height="5.4"/>
<rect x="461.0" y="455.6" width="5.4" height="5.4"/>
<rect x="461.2" y="452.2" width="5.4" height="5.4"/>
<rect x="461.7" y="449.5" width="5.4" height="5.4"/>
<rect x="462.1" y="446.6" width="5.4" height="5.4"/>
<rect x="462.3" y="444.4" width="5.4" height="5.4"/>
<rect x="462.9" y="441.2" width="5.4" height="5.4"/>
<rect x="463.2" y="438.1" width="5.4" height="5.4"/>
<rect x="463.3" y="435.6" width="5.4" height="5.4"/>
<rect x="463.8" y="431.8" width="5.4" height="5.4"/>
<rect x="464.5" y="428.7" width="5.4" height="5.4"/>
<rect x="464.5" y="425.1" width="5.4" height="5.4"/>
<rect x="465.1" y="421.8" width="5.4" height="5.4"/>
<rect x="465.5" y="418.7" width="5.4" height="5.4"/>
<rect x="466.0" y="415.2" width="5.4" height="5.4"/>
<rect x="466.2" y="411.8" width="5.4" height="5.4"/>
<rect x="466.5" y="409.0" width="5.4" height="5.4"/>
<rect x="466.9" y="405.3" width="5.4" height="5.4"/>
<rect x="467.2" y="402.3" width="5.4" height="5.4"/>
<rect x="467.7" y="400.4" width="5.4" height="5.4"/>
<rect x="468.0" y="397.1" width="5.4" height="5.4"/>
<rect x="468.3" y="395.3" width="5.4" height="5.4"/>
<rect x="468.8" y="393.2" width="5.4" height="5.4"/>
<rect x="469.2" y="391.3" width="5.4" height="5.4"/>
<rect x="469.5" y="388.6" width="5.4" height="5.4"/>
<rect x="470.2" y="387.0" width="5.4" height="5.4"/>
<rect x="470.3" y="384.6" width="5.4" height="5.4"/>
<rect x="470.7" y="382.8" width="5.4" height="5.4"/>
<rect x="471.0" y="380.8" width="5.4" height="5.4"/>
<rect x="471.7" y="380.3" width="5.4" height="5.4"/>
<rect x="471.9" y="378.9" width="5.4" height="5.4"/>
<rect x="472.2" y="388.1" width="5.4" height="5.4"/>
<rect x="472.9" y="385.8" width="5.4" height="5.4"/>
<rect x="473.7" y="382.1" width="5.4" height="5.4"/>
<rect x="474.1" y="379.3" width="5.4" height="5.4"/>
<rect x="474.8" y="375.2" width="5.4" height="5.4"/>
<rect x="475.5" y="371.8" width="5.4" height="5.4"/>
<rect x="476.2" y="386.1" width="5.4" height="5.4"/>
<rect x="476.6" y="382.8" width="5.4" height="5.4"/>
<rect x="477.2" y="379.7" width="5.4" height="5.4"/>
<rect x="477.7" y="376.5" width="5.4" height="5.4"/>
<rect x="478.4" y="374.4" width="5.4" height="5.4"/>
<rect x="479.0" y="387.4" width="5.4" height="5.4"/>
<rect x="479.7" y="384.8" width="5.4" height="5.4"/>
<rect x="480.4" y="382.0" width="5.4" height="5.4"/>
<rect x="481.2" y="378.3" width="5.4" height="5.4"/>
<rect x="481.4" y="376.2" width="5.4" height="5.4"/>
<rect x="482.4" y="373.1" width="5.4" height="5.4"/>
<rect x="482.7" y="386.9" width="5.4" height="5.4"/>
<rect x="483.5" y="383.9" width="5.4" height="5.4"/>
<rect x="483.9" y="379.1" width="5.4" height="5.4"/>
<rect x="484.8" y="377.9" width="5.4" height="5.4"/>
<rect x="485.2" y="373.4" width="5.4" height="5.4"/>
<rect x="485.8" y="387.1" width="5.4" height="5.4"/>
<rect x="486.5" y="385.3" width="5.4" height="5.4"/>
<rect x="487.3" y="380.9" width="5.4" height="5.4"/>
<rect x="487.7" y="379.1" width="5.4" height="5.4"/>
<rect x="488.5" y="389.8" width="5.4" height="5.4"/>
<rect x="489.2" y="400.0" width="5.4" height="5.4"/>
<rect x="489.9" y="406.1" width="5.4" height="5.4"/>
<rect x="490.5" y="410.9" width="5.4" height="5.4"/>
<rect x="491.3" y="415.6" width="5.4" height="5.4"/>
<rect x="492.0" y="420.5" width="5.4" height="5.4"/>
<rect x="492.8" y="425.4" width="5.4" height="5.4"/>
<rect x="493.4" y="432.9" width="5.4" height="5.4"/>
<rect x="494.2" y="442.8" width="5.4" height="5.4"/>
<rect x="494.9" y="452.7" width="5.4" height="5.4"/>
<rect x="495.6" y="461.7" width="5.4" height="5.4"/>
<rect x="496.4" y="465.4" width="5.4" height="5.4"/>
<rect x="496.9" y="469.2" width="5.4" height="5.4"/>
<rect x="497.8" y="472.6" width="5.4" height="5.4"/>
<rect x="498.5" y="475.7" width="5.4" height="5.4"/>
<rect x="499.2" y="479.3" width="5.4" height="5.4"/>
<rect x="500.4" y="479.8" width="5.4" height="5.4"/>
<rect x="500.8" y="479.7" width="5.4" height="5.4"/>
<rect x="500.9" y="482.8" width="5.4" height="5.4"/>
<rect x="502.2" y="483.0" width="5.4" height="5.4"/>
<rect x="502.6" y="484.4" width="5.4" height="5.4"/>
<rect x="503.5" y="484.9" width="5.4" height="5.4"/>
<rect x="504.5" y="483.4" width="5.4" height="5.4"/>
<rect x="505.1" y="482.0" width="5.4" height="5.4"/>
<rect x="505.4" y="484.4" width="5.4" height="5.4"/>
<rect x="506.1" y="485.6" width="5.4" height="5.4"/>
<rect x="507.0" y="483.8" width="5.4" height="5.4"/>
<rect x="507.4" y="484.5" width="5.4" height="5.4"/>
<rect x="508.3" y="482.8" width="5.4" height="5.4"/>
<rect x="509.4" y="482.9" width="5.4" height="5.4"/>
<rect x="510.1" y="481.5" width="5.4" height="5.4"/>
<rect x="510.4" y="481.5" width="5.4" height="5.4"/>
<rect x="511.1" y="480.6" width="5.4" height="5.4"/>
<rect x="512.0" y="482.3" width="5.4" height="5.4"/>
<rect x="512.4" y="480.8" width="5.4" height="5.4"/>
<rect x="513.0" y="478.3" width="5.4" height="5.4"/>
<rect x="514.1" y="478.4" width="5.4" height="5.4"/>
<rect x="514.2" y="478.2" width="5.4" height="5.4"/>
<rect x="515.7" y="477.2" width="5.4" height="5.4"/>
<rect x="515.8" y="475.6" width="5.4" height="5.4"/>
<rect x="516.2" y="473.1" width="5.4" height="5.4"/>
<rect x="517.0" y="469.7" width="5.4" height="5.4"/>
<rect x="517.3" y="466.9" width="5.4" height="5.4"/>
<rect x="517.8" y="463.8" width="5.4" height="5.4"/>
<rect x="518.0" y="460.3" width="5.4" height="5.4"/>
<rect x="518.4" y="457.0" width="5.4" height="5.4"/>
<rect x="518.8" y="453.6" width="5.4" height="5.4"/>
<rect x="519.2" y="449.8" width="5.4" height="5.4"/>
<rect x="519.6" y="446.8" width="5.4" height="5.4"/>
<rect x="519.7" y="443.1" width="5.4" height="5.4"/>
<rect x="520.4" y="439.7" width="5.4" height="5.4"/>
<rect x="520.7" y="437.4" width="5.4" height="5.4"/>
<rect x="521.1" y="433.5" width="5.4" height="5.4"/>
<rect x="521.4" y="430.2" width="5.4" height="5.4"/>
<rect x="521.6" y="425.3" width="5.4" height="5.4"/>
<rect x="522.0" y="421.1" width="5.4" height="5.4"/>
<rect x="522.6" y="416.8" width="5.4" height="5.4"/>
<rect x="522.7" y="413.1" width="5.4" height="5.4"/>
<rect x="523.0" y="408.3" width="5.4" height="5.4"/>
<rect x="523.8" y="403.5" width="5.4" height="5.4"/>
<rect x="524.2" y="399.7" width="5.4" height="5.4"/>
<rect x="524.2" y="395.2" width="5.4" height="5.4"/>
<rect x="524.8" y="390.8" width="5.4" height="5.4"/>
<rect x="525.4" y="388.2" width="5.4" height="5.4"/>
<rect x="525.5" y="384.9" width="5.4" height="5.4"/>
<rect x="526.0" y="381.7" width="5.4" height="5.4"/>
<rect x="526.2" y="382.4" width="5.4" height="5.4"/>
<rect x="526.7" y="378.9" width="5.4" height="5.4"/>
<rect x="527.4" y="377.2" width="5.4" height="5.4"/>
<rect x="528.0" y="374.6" width="5.4" height="5.4"/>
<rect x="528.6" y="371.3" width="5.4" height="5.4"/>
<rect x="529.5" y="366.5" width="5.4" height="5.4"/>
<rect x="530.1" y="380.9" width="5.4" height="5.4"/>
<rect x="530.5" y="377.7" width="5.4" height="5.4"/>
<rect x="531.3" y="375.7" width="5.4" height="5.4"/>
<rect x="532.0" y="372.8" width="5.4" height="5.4"/>
<rect x="532.6" y="368.2" width="5.4" height="5.4"/>
<rect x="533.1" y="383.3" width="5.4" height="5.4"/>
<rect x="533.6" y="380.7" width="5.4" height="5.4"/>
<rect x="534.4" y="377.6" width="5.4" height="5.4"/>
<rect x="534.8" y="372.6" width="5.4" height="5.4"/>
<rect x="535.7" y="370.8" width="5.4" height="5.4"/>
<rect x="536.1" y="366.6" width="5.4" height="5.4"/>
<rect x="536.7" y="381.8" width="5.4" height="5.4"/>
<rect x="537.5" y="378.1" width="5.4" height="5.4"/>
<rect x="538.1" y="381.8" width="5.4" height="5.4"/>
<rect x="538.9" y="386.8" width="5.4" height="5.4"/>
<rect x="539.5" y="391.4" width="5.4" height="5.4"/>
<rect x="540.3" y="396.0" width="5.4" height="5.4"/>
<rect x="541.1" y="401.1" width="5.4" height="5.4"/>
<rect x="541.7" y="406.6" width="5.4" height="5.4"/>
<rect x="542.6" y="412.7" width="5.4" height="5.4"/>
<rect x="543.2" y="418.5" width="5.4" height="5.4"/>
<rect x="543.8" y="423.7" width="5.4" height="5.4"/>
<rect x="544.7" y="430.5" width="5.4" height="5.4"/>
<rect x="545.3" y="436.9" width="5.4" height="5.4"/>
<rect x="546.2" y="443.2" width="5.4" height="5.4"/>
<rect x="546.9" y="450.0" width="5.4" height="5.4"/>
<rect x="547.5" y="456.0" width="5.4" height="5.4"/>
<rect x="548.2" y="462.9" width="5.4" height="5.4"/>
<rect x="549.0" y="467.9" width="5.4" height="5.4"/>
<rect x="549.8" y="473.4" width="5.4" height="5.4"/>
<rect x="550.3" y="478.1" width="5.4" height="5.4"/>
<rect x="551.1" y="479.3" width="5.4" height="5.4"/>
<rect x="552.2" y="481.7" width="5.4" height="5.4"/>
<rect x="552.1" y="483.8" width="5.4" height="5.4"/>
<rect x="553.6" y="483.8" width="5.4" height="5.4"/>
<rect x="554.0" y="484.2" width="5.4" height="5.4"/>
<rect x="555.0" y="482.3" width="5.4" height="5.4"/>
<rect x="555.5" y="484.4" width="5.4" height="5.4"/>
<rect x="555.9" y="485.0" width="5.4" height="5.4"/>
<rect x="556.8" y="482.3" width="5.4" height="5.4"/>
<rect x="557.1" y="485.1" width="5.4" height="5.4"/>
<rect x="558.6" y="485.1" width="5.4" height="5.4"/>
<rect x="558.9" y="483.1" width="5.4" height="5.4"/>
<rect x="559.5" y="484.3" width="5.4" height="5.4"/>
<rect x="560.0" y="482.3" width="5.4" height="5.4"/>
<rect x="561.2" y="483.9" width="5.4" height="5.4"/>
<rect x="561.2" y="482.5" width="5.4" height="5.4"/>
<rect x="562.6" y="483.4" width="5.4" height="5.4"/>
<rect x="563.1" y="481.0" width="5.4" height="5.4"/>
<rect x="564.1" y="483.0" width="5.4" height="5.4"/>
<rect x="564.4" y="481.1" width="5.4" height="5.4"/>
<rect x="564.8" y="480.1" width="5.4" height="5.4"/>
<rect x="565.5" y="477.4" width="5.4" height="5.4"/>
<rect x="566.4" y="478.0" width="5.4" height="5.4"/>
<rect x="567.1" y="476.2" width="5.4" height="5.4"/>
<rect x="567.8" y="474.8" width="5.4" height="5.4"/>
<rect x="568.6" y="473.5" width="5.4" height="5.4"/>
<rect x="568.5" y="471.2" width="5.4" height="5.4"/>
<rect x="569.2" y="468.2" width="5.4" height="5.4"/>
<rect x="569.5" y="464.4" width="5.4" height="5.4"/>
<rect x="569.8" y="461.3" width="5.4" height="5.4"/>
<rect x="570.0" y="457.7" width="5.4" height="5.4"/>
<rect x="570.8" y="455.5" width="5.4" height="5.4"/>
<rect x="571.0" y="451.7" width="5.4" height="5.4"/>
<rect x="571.5" y="448.1" width="5.4" height="5.4"/>
<rect x="572.0" y="445.0" width="5.4" height="5.4"/>
<rect x="572.3" y="442.2" width="5.4" height="5.4"/>
<rect x="572.4" y="439.1" width="5.4" height="5.4"/>
<rect x="572.7" y="434.8" width="5.4" height="5.4"/>
<rect x="573.1" y="431.7" width="5.4" height="5.4"/>
<rect x="573.7" y="427.1" width="5.4" height="5.4"/>
<rect x="574.0" y="423.5" width="5.4" height="5.4"/>
<rect x="574.6" y="419.0" width="5.4" height="5.4"/>
<rect x="574.8" y="413.3" width="5.4" height="5.4"/>
<rect x="575.0" y="409.2" width="5.4" height="5.4"/>
<rect x="575.4" y="405.3" width="5.4" height="5.4"/>
<rect x="576.0" y="400.2" width="5.4" height="5.4"/>
<rect x="576.4" y="396.1" width="5.4" height="5.4"/>
<rect x="576.7" y="390.8" width="5.4" height="5.4"/>
<rect x="577.3" y="386.4" width="5.4" height="5.4"/>
<rect x="577.3" y="385.7" width="5.4" height="5.4"/>
<rect x="577.7" y="382.8" width="5.4" height="5.4"/>
<rect x="578.4" y="381.4" width="5.4" height="5.4"/>
<rect x="578.7" y="380.3" width="5.4" height="5.4"/>
<rect x="579.1" y="377.5" width="5.4" height="5.4"/>
<rect x="579.4" y="387.8" width="5.4" height="5.4"/>
<rect x="579.8" y="385.3" width="5.4" height="5.4"/>
<rect x="580.7" y="380.5" width="5.4" height="5.4"/>
<rect x="581.3" y="379.0" width="5.4" height="5.4"/>
<rect x="581.9" y="374.6" width="5.4" height="5.4"/>
<rect x="582.3" y="372.4" width="5.4" height="5.4"/>
<rect x="583.0" y="385.4" width="5.4" height="5.4"/>
<rect x="583.7" y="381.9" width="5.4" height="5.4"/>
<rect x="584.2" y="378.9" width="5.4" height="5.4"/>
<rect x="585.0" y="375.8" width="5.4" height="5.4"/>
<rect x="585.6" y="372.4" width="5.4" height="5.4"/>
<rect x="586.0" y="386.7" width="5.4" height="5.4"/>
<rect x="586.7" y="385.1" width="5.4" height="5.4"/>
<rect x="587.5" y="382.0" width="5.4" height="5.4"/>
<rect x="587.9" y="378.8" width="5.4" height="5.4"/>
<rect x="588.5" y="374.8" width="5.4" height="5.4"/>
<rect x="589.4" y="372.7" width="5.4" height="5.4"/>
<rect x="589.9" y="386.0" width="5.4" height="5.4"/>
<rect x="590.6" y="385.1" width="5.4" height="5.4"/>
<rect x="591.3" y="389.1" width="5.4" height="5.4"/>
<rect x="591.9" y="392.7" width="5.4" height="5.4"/>
<rect x="592.7" y="396.5" width="5.4" height="5.4"/>
<rect x="593.3" y="401.4" width="5.4" height="5.4"/>
<rect x="594.0" y="406.9" width="5.4" height="5.4"/>
<rect x="594.7" y="411.7" width="5.4" height="5.4"/>
<rect x="595.6" y="416.7" width="5.4" height="5.4"/>
<rect x="596.2" y="422.0" width="5.4" height="5.4"/>
<rect x="596.9" y="427.4" width="5.4" height="5.4"/>
<rect x="597.6" y="433.6" width="5.4" height="5.4"/>
<rect x="598.3" y="439.4" width="5.4" height="5.4"/>
<rect x="599.2" y="445.1" width="5.4" height="5.4"/>
<rect x="599.9" y="450.1" width="5.4" height="5.4"/>
<rect x="600.5" y="455.9" width="5.4" height="5.4"/>
<rect x="601.3" y="459.3" width="5.4" height="5.4"/>
<rect x="602.2" y="463.5" width="5.4" height="5.4"/>
<rect x="602.6" y="466.9" width="5.4" height="5.4"/>
<rect x="603.6" y="469.7" width="5.4" height="5.4"/>
<rect x="604.2" y="472.9" width="5.4" height="5.4"/>
<rect x="605.0" y="475.9" width="5.4" height="5.4"/>
<rect x="605.7" y="478.3" width="5.4" height="5.4"/>
<rect x="606.2" y="481.2" width="5.4" height="5.4"/>
<rect x="607.4" y="480.0" width="5.4" height="5.4"/>
<rect x="607.4" y="482.4" width="5.4" height="5.4"/>
<rect x="608.9" y="482.5" width="5.4" height="5.4"/>
<rect x="609.2" y="482.2" width="5.4" height="5.4"/>
<rect x="609.5" y="482.4" width="5.4" height="5.4"/>
<rect x="610.8" y="485.1" width="5.4" height="5.4"/>
<rect x="610.8" y="483.0" width="5.4" height="5.4"/>
<rect x="612.1" y="482.2" width="5.4" height="5.4"/>
<rect x="612.4" y="483.3" width="5.4" height="5.4"/>
<rect x="613.5" y="481.8" width="5.4" height="5.4"/>
<rect x="614.4" y="483.3" width="5.4" height="5.4"/>
<rect x="614.5" y="482.4" width="5.4" height="5.4"/>
<rect x="615.7" y="480.2" width="5.4" height="5.4"/>
<rect x="616.4" y="481.0" width="5.4" height="5.4"/>
<rect x="617.0" y="479.1" width="5.4" height="5.4"/>
<rect x="617.4" y="478.3" width="5.4" height="5.4"/>
<rect x="617.6" y="477.8" width="5.4" height="5.4"/>
<rect x="618.2" y="475.6" width="5.4" height="5.4"/>
<rect x="618.6" y="475.0" width="5.4" height="5.4"/>
<rect x="618.6" y="473.6" width="5.4" height="5.4"/>
<rect x="619.1" y="473.2" width="5.4" height="5.4"/>
<rect x="619.5" y="470.7" width="5.4" height="5.4"/>
<rect x="619.7" y="469.0" width="5.4" height="5.4"/>
<rect x="620.3" y="466.8" width="5.4" height="5.4"/>
<rect x="620.5" y="464.7" width="5.4" height="5.4"/>
<rect x="621.2" y="462.8" width="5.4" height="5.4"/>
<rect x="621.3" y="460.9" width="5.4" height="5.4"/>
<rect x="621.7" y="458.5" width="5.4" height="5.4"/>
<rect x="622.0" y="456.3" width="5.4" height="5.4"/>
<rect x="622.8" y="453.6" width="5.4" height="5.4"/>
<rect x="622.9" y="450.3" width="5.4" height="5.4"/>
<rect x="623.3" y="447.5" width="5.4" height="5.4"/>
<rect x="623.9" y="444.1" width="5.4" height="5.4"/>
<rect x="623.9" y="441.5" width="5.4" height="5.4"/>
<rect x="624.3" y="438.5" width="5.4" height="5.4"/>
<rect x="624.6" y="436.5" width="5.4" height="5.4"/>
<rect x="625.3" y="432.8" width="5.4" height="5.4"/>
<rect x="625.4" y="430.1" width="5.4" height="5.4"/>
<rect x="626.0" y="427.8" width="5.4" height="5.4"/>
<rect x="626.5" y="424.8" width="5.4" height="5.4"/>
<rect x="626.9" y="421.5" width="5.4" height="5.4"/>
<rect x="626.9" y="419.4" width="5.4" height="5.4"/>
<rect x="627.5" y="414.8" width="5.4" height="5.4"/>
<rect x="627.8" y="411.5" width="5.4" height="5.4"/>
<rect x="628.2" y="407.2" width="5.4" height="5.4"/>
<rect x="628.7" y="403.4" width="5.4" height="5.4"/>
<rect x="628.8" y="400.4" width="5.4" height="5.4"/>
<rect x="629.5" y="396.3" width="5.4" height="5.4"/>
<rect x="629.9" y="392.0" width="5.4" height="5.4"/>
<rect x="630.1" y="389.1" width="5.4" height="5.4"/>
<rect x="630.7" y="384.6" width="5.4" height="5.4"/>
<rect x="630.9" y="381.7" width="5.4" height="5.4"/>
<rect x="631.4" y="380.9" width="5.4" height="5.4"/>
<rect x="631.6" y="378.9" width="5.4" height="5.4"/>
<rect x="632.0" y="377.5" width="5.4" height="5.4"/>
<rect x="632.6" y="377.0" width="5.4" height="5.4"/>
<rect x="633.0" y="375.6" width="5.4" height="5.4"/>
<rect x="633.0" y="374.2" width="5.4" height="5.4"/>
<rect x="633.8" y="377.6" width="5.4" height="5.4"/>
<rect x="634.1" y="375.4" width="5.4" height="5.4"/>
<rect x="634.9" y="371.2" width="5.4" height="5.4"/>
<rect x="635.5" y="368.0" width="5.4" height="5.4"/>
<rect x="636.0" y="364.3" width="5.4" height="5.4"/>
<rect x="636.5" y="362.1" width="5.4" height="5.4"/>
<rect x="637.5" y="375.3" width="5.4" height="5.4"/>
<rect x="638.1" y="373.5" width="5.4" height="5.4"/>
<rect x="638.7" y="370.1" width="5.4" height="5.4"/>
<rect x="639.3" y="367.5" width="5.4" height="5.4"/>
<rect x="639.8" y="362.7" width="5.4" height="5.4"/>
<rect x="640.5" y="377.0" width="5.4" height="5.4"/>
<rect x="641.0" y="373.9" width="5.4" height="5.4"/>
<rect x="641.7" y="372.1" width="5.4" height="5.4"/>
<rect x="642.3" y="367.7" width="5.4" height="5.4"/>
<rect x="643.1" y="365.0" width="5.4" height="5.4"/>
<rect x="643.4" y="378.6" width="5.4" height="5.4"/>
<rect x="644.0" y="376.2" width="5.4" height="5.4"/>
<rect x="644.9" y="373.0" width="5.4" height="5.4"/>
<rect x="645.3" y="378.8" width="5.4" height="5.4"/>
<rect x="646.1" y="383.7" width="5.4" height="5.4"/>
<rect x="646.7" y="388.3" width="5.4" height="5.4"/>
<rect x="647.5" y="395.1" width="5.4" height="5.4"/>
<rect x="648.2" y="402.6" width="5.4" height="5.4"/>
<rect x="648.8" y="409.6" width="5.4" height="5.4"/>
<rect x="649.8" y="416.8" width="5.4" height="5.4"/>
<rect x="650.4" y="423.1" width="5.4" height="5.4"/>
<rect x="651.0" y="429.3" width="5.4" height="5.4"/>
<rect x="651.8" y="435.6" width="5.4" height="5.4"/>
<rect x="652.6" y="441.7" width="5.4" height="5.4"/>
<rect x="653.2" y="447.4" width="5.4" height="5.4"/>
<rect x="653.9" y="451.5" width="5.4" height="5.4"/>
<rect x="654.7" y="456.2" width="5.4" height="5.4"/>
<rect x="655.3" y="460.7" width="5.4" height="5.4"/>
<rect x="656.3" y="464.8" width="5.4" height="5.4"/>
<rect x="656.9" y="468.9" width="5.4" height="5.4"/>
<rect x="657.5" y="471.9" width="5.4" height="5.4"/>
<rect x="658.3" y="475.1" width="5.4" height="5.4"/>
<rect x="658.9" y="477.6" width="5.4" height="5.4"/>
<rect x="660.1" y="477.1" width="5.4" height="5.4"/>
<rect x="660.0" y="479.0" width="5.4" height="5.4"/>
<rect x="661.1" y="479.3" width="5.4" height="5.4"/>
<rect x="661.5" y="481.1" width="5.4" height="5.4"/>
<rect x="663.0" y="479.8" width="5.4" height="5.4"/>
<rect x="662.9" y="482.1" width="5.4" height="5.4"/>
<rect x="663.8" y="480.3" width="5.4" height="5.4"/>
<rect x="664.8" y="481.1" width="5.4" height="5.4"/>
<rect x="665.7" y="481.3" width="5.4" height="5.4"/>
<rect x="666.3" y="479.7" width="5.4" height="5.4"/>
<rect x="667.0" y="480.1" width="5.4" height="5.4"/>
<rect x="667.7" y="478.7" width="5.4" height="5.4"/>
<rect x="668.6" y="479.1" width="5.4" height="5.4"/>
<rect x="669.0" y="475.8" width="5.4" height="5.4"/>
<rect x="669.4" y="474.3" width="5.4" height="5.4"/>
<rect x="669.6" y="473.7" width="5.4" height="5.4"/>
<rect x="670.0" y="472.7" width="5.4" height="5.4"/>
<rect x="670.5" y="470.7" width="5.4" height="5.4"/>
<rect x="670.8" y="469.9" width="5.4" height="5.4"/>
<rect x="671.1" y="467.5" width="5.4" height="5.4"/>
<rect x="671.6" y="465.7" width="5.4" height="5.4"/>
<rect x="671.8" y="463.6" width="5.4" height="5.4"/>
<rect x="672.2" y="462.1" width="5.4" height="5.4"/>
<rect x="672.8" y="459.9" width="5.4" height="5.4"/>
<rect x="673.0" y="458.7" width="5.4" height="5.4"/>
<rect x="673.3" y="456.3" width="5.4" height="5.4"/>
<rect x="673.6" y="453.4" width="5.4" height="5.4"/>
<rect x="674.2" y="451.1" width="5.4" height="5.4"/>
<rect x="674.8" y="447.8" width="5.4" height="5.4"/>
<rect x="675.1" y="445.4" width="5.4" height="5.4"/>
<rect x="675.5" y="443.3" width="5.4" height="5.4"/>
<rect x="675.7" y="439.9" width="5.4" height="5.4"/>
<rect x="675.8" y="438.0" width="5.4" height="5.4"/>
<rect x="676.5" y="434.3" width="5.4" height="5.4"/>
<rect x="677.1" y="432.1" width="5.4" height="5.4"/>
<rect x="677.2" y="429.8" width="5.4" height="5.4"/>
<rect x="677.6" y="427.4" width="5.4" height="5.4"/>
<rect x="678.1" y="424.1" width="5.4" height="5.4"/>
<rect x="678.3" y="421.1" width="5.4" height="5.4"/>
<rect x="678.7" y="417.9" width="5.4" height="5.4"/>
<rect x="679.2" y="414.8" width="5.4" height="5.4"/>
<rect x="679.3" y="410.8" width="5.4" height="5.4"/>
<rect x="679.8" y="407.2" width="5.4" height="5.4"/>
<rect x="680.3" y="403.9" width="5.4" height="5.4"/>
<rect x="680.9" y="400.8" width="5.4" height="5.4"/>
<rect x="681.0" y="396.9" width="5.4" height="5.4"/>
<rect x="681.6" y="393.6" width="5.4" height="5.4"/>
<rect x="681.8" y="389.7" width="5.4" height="5.4"/>
<rect x="682.0" y="387.1" width="5.4" height="5.4"/>
<rect x="682.8" y="385.0" width="5.4" height="5.4"/>
<rect x="682.9" y="384.1" width="5.4" height="5.4"/>
<rect x="683.5" y="381.8" width="5.4" height="5.4"/>
<rect x="683.8" y="381.0" width="5.4" height="5.4"/>
<rect x="684.3" y="379.8" width="5.4" height="5.4"/>
<rect x="684.3" y="377.6" width="5.4" height="5.4"/>
<rect x="684.8" y="375.9" width="5.4" height="5.4"/>
<rect x="685.0" y="374.7" width="5.4" height="5.4"/>
<rect x="685.6" y="379.4" width="5.4" height="5.4"/>
<rect x="686.1" y="377.1" width="5.4" height="5.4"/>
<rect x="686.9" y="374.8" width="5.4" height="5.4"/>
<rect x="687.4" y="369.8" width="5.4" height="5.4"/>
<rect x="688.0" y="368.2" width="5.4" height="5.4"/>
<rect x="688.5" y="364.9" width="5.4" height="5.4"/>
<rect x="689.4" y="378.0" width="5.4" height="5.4"/>
<rect x="690.0" y="375.5" width="5.4" height="5.4"/>
<rect x="690.5" y="371.6" width="5.4" height="5.4"/>
<rect x="691.1" y="369.2" width="5.4" height="5.4"/>
<rect x="691.8" y="366.3" width="5.4" height="5.4"/>
<rect x="692.4" y="380.9" width="5.4" height="5.4"/>
<rect x="692.9" y="376.6" width="5.4" height="5.4"/>
<rect x="693.7" y="373.0" width="5.4" height="5.4"/>
<rect x="694.1" y="369.8" width="5.4" height="5.4"/>
<rect x="694.9" y="366.8" width="5.4" height="5.4"/>
<rect x="695.5" y="382.0" width="5.4" height="5.4"/>
<rect x="695.9" y="378.9" width="5.4" height="5.4"/>
<rect x="696.8" y="374.2" width="5.4" height="5.4"/>
<rect x="697.4" y="376.5" width="5.4" height="5.4"/>
<rect x="698.0" y="379.6" width="5.4" height="5.4"/>
<rect x="698.7" y="382.8" width="5.4" height="5.4"/>
<rect x="699.5" y="388.9" width="5.4" height="5.4"/>
<rect x="700.2" y="393.8" width="5.4" height="5.4"/>
<rect x="700.8" y="399.3" width="5.4" height="5.4"/>
<rect x="701.7" y="405.2" width="5.4" height="5.4"/>
<rect x="702.4" y="410.7" width="5.4" height="5.4"/>
<rect x="703.0" y="415.8" width="5.4" height="5.4"/>
<rect x="704.0" y="421.2" width="5.4" height="5.4"/>
<rect x="704.5" y="429.0" width="5.4" height="5.4"/>
<rect x="705.4" y="436.1" width="5.4" height="5.4"/>
<rect x="706.0" y="442.5" width="5.4" height="5.4"/>
<rect x="706.7" y="450.1" width="5.4" height="5.4"/>
<rect x="707.4" y="457.1" width="5.4" height="5.4"/>
<rect x="708.2" y="463.5" width="5.4" height="5.4"/>
<rect x="708.8" y="470.2" width="5.4" height="5.4"/>
<rect x="709.6" y="477.8" width="5.4" height="5.4"/>
<rect x="710.1" y="480.9" width="5.4" height="5.4"/>
<rect x="710.9" y="479.5" width="5.4" height="5.4"/>
<rect x="712.2" y="480.4" width="5.4" height="5.4"/>
<rect x="712.5" y="481.5" width="5.4" height="5.4"/>
<rect x="713.2" y="481.7" width="5.4" height="5.4"/>
<rect x="713.7" y="482.9" width="5.4" height="5.4"/>
<rect x="714.1" y="481.7" width="5.4" height="5.4"/>
<rect x="715.1" y="484.5" width="5.4" height="5.4"/>
<rect x="715.6" y="482.4" width="5.4" height="5.4"/>
</g>
<g clip-path="url(#cd)" fill="#ff0000">
<circle cx="399.4" cy="476.1" r="3.8"/>
<circle cx="400.8" cy="472.6" r="3.8"/>
<circle cx="400.1" cy="476.8" r="3.8"/>
<circle cx="400.4" cy="481.8" r="3.8"/>
<circle cx="402.6" cy="475.6" r="3.8"/>
<circle cx="402.1" cy="473.6" r="3.8"/>
<circle cx="403.4" cy="483.4" r="3.8"/>
<circle cx="402.8" cy="473.9" r="3.8"/>
<circle cx="403.3" cy="481.7" r="3.8"/>
<circle cx="403.3" cy="484.9" r="3.8"/>
<circle cx="404.5" cy="484.2" r="3.8"/>
<circle cx="404.8" cy="473.5" r="3.8"/>
<circle cx="405.9" cy="471.6" r="3.8"/>
<circle cx="406.8" cy="472.8" r="3.8"/>
<circle cx="406.0" cy="476.9" r="3.8"/>
<circle cx="407.0" cy="471.5" r="3.8"/>
<circle cx="408.1" cy="470.5" r="3.8"/>
<circle cx="407.7" cy="468.7" r="3.8"/>
<circle cx="407.5" cy="473.9" r="3.8"/>
<circle cx="408.3" cy="476.2" r="3.8"/>
<circle cx="409.2" cy="473.7" r="3.8"/>
<circle cx="409.1" cy="468.1" r="3.8"/>
<circle cx="409.0" cy="466.0" r="3.8"/>
<circle cx="409.8" cy="469.1" r="3.8"/>
<circle cx="409.7" cy="467.2" r="3.8"/>
<circle cx="410.9" cy="465.7" r="3.8"/>
<circle cx="411.1" cy="464.3" r="3.8"/>
<circle cx="411.6" cy="460.9" r="3.8"/>
<circle cx="411.6" cy="460.6" r="3.8"/>
<circle cx="412.4" cy="462.0" r="3.8"/>
<circle cx="414.6" cy="459.2" r="3.8"/>
<circle cx="415.0" cy="460.1" r="3.8"/>
<circle cx="413.4" cy="459.4" r="3.8"/>
<circle cx="413.5" cy="455.2" r="3.8"/>
<circle cx="415.8" cy="455.8" r="3.8"/>
<circle cx="415.5" cy="452.4" r="3.8"/>
<circle cx="416.8" cy="452.3" r="3.8"/>
<circle cx="417.6" cy="448.4" r="3.8"/>
<circle cx="417.5" cy="447.2" r="3.8"/>
<circle cx="416.5" cy="444.6" r="3.8"/>
<circle cx="418.7" cy="446.7" r="3.8"/>
<circle cx="417.2" cy="444.0" r="3.8"/>
<circle cx="418.0" cy="438.8" r="3.8"/>
<circle cx="418.8" cy="437.8" r="3.8"/>
<circle cx="418.5" cy="437.0" r="3.8"/>
<circle cx="420.6" cy="434.9" r="3.8"/>
<circle cx="421.7" cy="432.5" r="3.8"/>
<circle cx="421.8" cy="432.8" r="3.8"/>
<circle cx="421.4" cy="429.4" r="3.8"/>
<circle cx="421.6" cy="429.9" r="3.8"/>
<circle cx="423.4" cy="424.6" r="3.8"/>
<circle cx="422.4" cy="427.2" r="3.8"/>
<circle cx="424.4" cy="422.5" r="3.8"/>
<circle cx="422.6" cy="424.6" r="3.8"/>
<circle cx="423.2" cy="421.9" r="3.8"/>
<circle cx="423.9" cy="423.9" r="3.8"/>
<circle cx="425.9" cy="423.7" r="3.8"/>
<circle cx="426.2" cy="418.5" r="3.8"/>
<circle cx="426.5" cy="424.5" r="3.8"/>
<circle cx="426.2" cy="430.2" r="3.8"/>
<circle cx="427.7" cy="420.2" r="3.8"/>
<circle cx="428.1" cy="424.1" r="3.8"/>
<circle cx="428.3" cy="427.1" r="3.8"/>
<circle cx="428.6" cy="428.4" r="3.8"/>
<circle cx="428.1" cy="423.1" r="3.8"/>
<circle cx="429.1" cy="418.5" r="3.8"/>
<circle cx="430.4" cy="416.1" r="3.8"/>
<circle cx="430.6" cy="411.1" r="3.8"/>
<circle cx="430.9" cy="410.0" r="3.8"/>
<circle cx="430.7" cy="419.9" r="3.8"/>
<circle cx="432.3" cy="416.5" r="3.8"/>
<circle cx="432.0" cy="417.7" r="3.8"/>
<circle cx="431.7" cy="412.6" r="3.8"/>
<circle cx="432.7" cy="414.1" r="3.8"/>
<circle cx="433.0" cy="412.3" r="3.8"/>
<circle cx="434.1" cy="411.2" r="3.8"/>
<circle cx="433.8" cy="418.1" r="3.8"/>
<circle cx="434.7" cy="412.5" r="3.8"/>
<circle cx="435.8" cy="415.2" r="3.8"/>
<circle cx="435.2" cy="414.0" r="3.8"/>
<circle cx="435.4" cy="420.9" r="3.8"/>
<circle cx="436.0" cy="410.0" r="3.8"/>
<circle cx="437.0" cy="412.6" r="3.8"/>
<circle cx="436.4" cy="413.5" r="3.8"/>
<circle cx="438.1" cy="414.3" r="3.8"/>
<circle cx="439.0" cy="415.3" r="3.8"/>
<circle cx="437.6" cy="420.0" r="3.8"/>
<circle cx="438.8" cy="420.0" r="3.8"/>
<circle cx="438.4" cy="422.3" r="3.8"/>
<circle cx="439.2" cy="425.5" r="3.8"/>
<circle cx="440.4" cy="430.4" r="3.8"/>
<circle cx="440.5" cy="430.1" r="3.8"/>
<circle cx="441.0" cy="434.8" r="3.8"/>
<circle cx="440.7" cy="436.0" r="3.8"/>
<circle cx="443.7" cy="437.7" r="3.8"/>
<circle cx="441.6" cy="444.0" r="3.8"/>
<circle cx="444.5" cy="446.4" r="3.8"/>
<circle cx="442.6" cy="448.1" r="3.8"/>
<circle cx="443.9" cy="450.2" r="3.8"/>
<circle cx="444.7" cy="451.1" r="3.8"/>
<circle cx="446.2" cy="452.7" r="3.8"/>
<circle cx="445.8" cy="458.5" r="3.8"/>
<circle cx="446.3" cy="461.4" r="3.8"/>
<circle cx="445.6" cy="459.1" r="3.8"/>
<circle cx="445.5" cy="459.8" r="3.8"/>
<circle cx="448.1" cy="468.2" r="3.8"/>
<circle cx="446.9" cy="462.8" r="3.8"/>
<circle cx="449.0" cy="468.6" r="3.8"/>
<circle cx="447.8" cy="473.1" r="3.8"/>
<circle cx="449.8" cy="471.6" r="3.8"/>
<circle cx="449.1" cy="471.5" r="3.8"/>
<circle cx="450.7" cy="464.2" r="3.8"/>
<circle cx="450.1" cy="466.6" r="3.8"/>
<circle cx="450.5" cy="470.3" r="3.8"/>
<circle cx="450.7" cy="474.7" r="3.8"/>
<circle cx="451.9" cy="463.7" r="3.8"/>
<circle cx="453.0" cy="472.1" r="3.8"/>
<circle cx="453.6" cy="473.3" r="3.8"/>
<circle cx="453.1" cy="476.8" r="3.8"/>
<circle cx="452.7" cy="470.7" r="3.8"/>
<circle cx="454.2" cy="468.1" r="3.8"/>
<circle cx="454.9" cy="465.1" r="3.8"/>
<circle cx="454.8" cy="466.4" r="3.8"/>
<circle cx="454.4" cy="477.9" r="3.8"/>
<circle cx="455.7" cy="465.0" r="3.8"/>
<circle cx="456.8" cy="467.0" r="3.8"/>
<circle cx="457.5" cy="464.0" r="3.8"/>
<circle cx="457.8" cy="475.6" r="3.8"/>
<circle cx="457.1" cy="469.2" r="3.8"/>
<circle cx="458.1" cy="472.2" r="3.8"/>
<circle cx="458.1" cy="468.4" r="3.8"/>
<circle cx="459.3" cy="468.3" r="3.8"/>
<circle cx="460.4" cy="473.4" r="3.8"/>
<circle cx="459.4" cy="463.8" r="3.8"/>
<circle cx="460.5" cy="467.3" r="3.8"/>
<circle cx="460.0" cy="465.6" r="3.8"/>
<circle cx="460.8" cy="461.4" r="3.8"/>
<circle cx="462.8" cy="465.4" r="3.8"/>
<circle cx="463.0" cy="470.4" r="3.8"/>
<circle cx="463.7" cy="470.1" r="3.8"/>
<circle cx="463.7" cy="463.9" r="3.8"/>
<circle cx="463.9" cy="457.1" r="3.8"/>
<circle cx="463.3" cy="458.4" r="3.8"/>
<circle cx="465.6" cy="456.3" r="3.8"/>
<circle cx="465.2" cy="454.0" r="3.8"/>
<circle cx="464.8" cy="451.3" r="3.8"/>
<circle cx="464.4" cy="452.5" r="3.8"/>
<circle cx="466.7" cy="447.0" r="3.8"/>
<circle cx="465.4" cy="446.6" r="3.8"/>
<circle cx="466.7" cy="445.8" r="3.8"/>
<circle cx="467.3" cy="443.3" r="3.8"/>
<circle cx="468.1" cy="440.6" r="3.8"/>
<circle cx="467.3" cy="437.5" r="3.8"/>
<circle cx="469.9" cy="434.0" r="3.8"/>
<circle cx="468.2" cy="433.4" r="3.8"/>
<circle cx="469.1" cy="432.6" r="3.8"/>
<circle cx="470.3" cy="426.2" r="3.8"/>
<circle cx="470.6" cy="424.6" r="3.8"/>
<circle cx="470.3" cy="423.9" r="3.8"/>
<circle cx="470.5" cy="422.3" r="3.8"/>
<circle cx="472.2" cy="420.3" r="3.8"/>
<circle cx="472.3" cy="414.1" r="3.8"/>
<circle cx="472.8" cy="414.1" r="3.8"/>
<circle cx="473.4" cy="424.3" r="3.8"/>
<circle cx="474.2" cy="422.4" r="3.8"/>
<circle cx="475.0" cy="413.2" r="3.8"/>
<circle cx="474.1" cy="419.4" r="3.8"/>
<circle cx="475.0" cy="413.9" r="3.8"/>
<circle cx="476.3" cy="405.3" r="3.8"/>
<circle cx="476.5" cy="410.4" r="3.8"/>
<circle cx="476.9" cy="404.9" r="3.8"/>
<circle cx="476.5" cy="403.8" r="3.8"/>
<circle cx="476.6" cy="407.9" r="3.8"/>
<circle cx="477.4" cy="410.8" r="3.8"/>
<circle cx="478.6" cy="407.0" r="3.8"/>
<circle cx="479.4" cy="408.6" r="3.8"/>
<circle cx="479.8" cy="411.2" r="3.8"/>
<circle cx="480.3" cy="410.4" r="3.8"/>
<circle cx="479.6" cy="414.4" r="3.8"/>
<circle cx="480.3" cy="412.8" r="3.8"/>
<circle cx="481.3" cy="413.0" r="3.8"/>
<circle cx="480.8" cy="413.8" r="3.8"/>
<circle cx="482.3" cy="407.9" r="3.8"/>
<circle cx="482.7" cy="415.4" r="3.8"/>
<circle cx="483.0" cy="403.7" r="3.8"/>
<circle cx="483.3" cy="404.4" r="3.8"/>
<circle cx="483.1" cy="413.5" r="3.8"/>
<circle cx="484.4" cy="415.1" r="3.8"/>
<circle cx="484.1" cy="406.4" r="3.8"/>
<circle cx="485.6" cy="408.9" r="3.8"/>
<circle cx="484.9" cy="410.7" r="3.8"/>
<circle cx="485.3" cy="403.4" r="3.8"/>
<circle cx="485.9" cy="413.5" r="3.8"/>
<circle cx="486.5" cy="410.3" r="3.8"/>
<circle cx="487.1" cy="412.7" r="3.8"/>
<circle cx="488.4" cy="407.3" r="3.8"/>
<circle cx="488.5" cy="414.2" r="3.8"/>
<circle cx="489.4" cy="419.4" r="3.8"/>
<circle cx="488.8" cy="410.7" r="3.8"/>
<circle cx="489.6" cy="414.2" r="3.8"/>
<circle cx="490.5" cy="424.4" r="3.8"/>
<circle cx="489.6" cy="413.3" r="3.8"/>
<circle cx="491.4" cy="419.2" r="3.8"/>
<circle cx="491.3" cy="419.4" r="3.8"/>
<circle cx="492.8" cy="420.6" r="3.8"/>
<circle cx="493.3" cy="424.2" r="3.8"/>
<circle cx="491.5" cy="427.8" r="3.8"/>
<circle cx="492.4" cy="428.7" r="3.8"/>
<circle cx="493.8" cy="434.1" r="3.8"/>
<circle cx="493.1" cy="432.1" r="3.8"/>
<circle cx="494.4" cy="436.1" r="3.8"/>
<circle cx="494.6" cy="439.7" r="3.8"/>
<circle cx="494.0" cy="440.9" r="3.8"/>
<circle cx="495.4" cy="444.5" r="3.8"/>
<circle cx="496.2" cy="443.5" r="3.8"/>
<circle cx="495.5" cy="450.3" r="3.8"/>
<circle cx="497.7" cy="447.7" r="3.8"/>
<circle cx="497.0" cy="450.1" r="3.8"/>
<circle cx="497.4" cy="453.0" r="3.8"/>
<circle cx="498.6" cy="455.1" r="3.8"/>
<circle cx="500.4" cy="458.9" r="3.8"/>
<circle cx="499.6" cy="455.9" r="3.8"/>
<circle cx="500.9" cy="461.1" r="3.8"/>
<circle cx="500.7" cy="462.0" r="3.8"/>
<circle cx="500.4" cy="462.2" r="3.8"/>
<circle cx="502.0" cy="460.9" r="3.8"/>
<circle cx="502.8" cy="470.1" r="3.8"/>
<circle cx="501.7" cy="468.3" r="3.8"/>
<circle cx="503.2" cy="470.4" r="3.8"/>
<circle cx="503.4" cy="467.7" r="3.8"/>
<circle cx="503.6" cy="465.8" r="3.8"/>
<circle cx="502.9" cy="466.9" r="3.8"/>
<circle cx="504.0" cy="466.2" r="3.8"/>
<circle cx="504.8" cy="475.7" r="3.8"/>
<circle cx="504.7" cy="467.3" r="3.8"/>
<circle cx="505.4" cy="465.8" r="3.8"/>
<circle cx="505.0" cy="464.7" r="3.8"/>
<circle cx="506.5" cy="475.4" r="3.8"/>
<circle cx="507.3" cy="469.7" r="3.8"/>
<circle cx="506.8" cy="468.0" r="3.8"/>
<circle cx="507.5" cy="464.9" r="3.8"/>
<circle cx="509.0" cy="468.5" r="3.8"/>
<circle cx="509.9" cy="472.1" r="3.8"/>
<circle cx="510.4" cy="469.4" r="3.8"/>
<circle cx="508.8" cy="473.1" r="3.8"/>
<circle cx="510.4" cy="467.6" r="3.8"/>
<circle cx="510.4" cy="479.2" r="3.8"/>
<circle cx="511.0" cy="476.2" r="3.8"/>
<circle cx="510.6" cy="477.2" r="3.8"/>
<circle cx="513.0" cy="471.5" r="3.8"/>
<circle cx="511.9" cy="468.2" r="3.8"/>
<circle cx="512.1" cy="464.4" r="3.8"/>
<circle cx="513.9" cy="467.5" r="3.8"/>
<circle cx="513.6" cy="466.4" r="3.8"/>
<circle cx="514.5" cy="465.8" r="3.8"/>
<circle cx="515.1" cy="474.8" r="3.8"/>
<circle cx="515.8" cy="464.7" r="3.8"/>
<circle cx="515.9" cy="474.0" r="3.8"/>
<circle cx="516.8" cy="460.3" r="3.8"/>
<circle cx="516.2" cy="470.1" r="3.8"/>
<circle cx="516.3" cy="458.4" r="3.8"/>
<circle cx="518.4" cy="461.6" r="3.8"/>
<circle cx="518.9" cy="460.7" r="3.8"/>
<circle cx="517.9" cy="453.3" r="3.8"/>
<circle cx="519.2" cy="453.7" r="3.8"/>
<circle cx="519.8" cy="449.5" r="3.8"/>
<circle cx="518.5" cy="446.8" r="3.8"/>
<circle cx="518.9" cy="444.8" r="3.8"/>
<circle cx="520.1" cy="443.5" r="3.8"/>
<circle cx="521.3" cy="440.4" r="3.8"/>
<circle cx="521.4" cy="436.8" r="3.8"/>
<circle cx="523.1" cy="433.1" r="3.8"/>
<circle cx="523.8" cy="433.6" r="3.8"/>
<circle cx="523.2" cy="428.5" r="3.8"/>
<circle cx="522.8" cy="429.6" r="3.8"/>
<circle cx="522.8" cy="423.9" r="3.8"/>
<circle cx="524.9" cy="421.8" r="3.8"/>
<circle cx="525.5" cy="419.1" r="3.8"/>
<circle cx="525.2" cy="419.2" r="3.8"/>
<circle cx="525.7" cy="418.4" r="3.8"/>
<circle cx="526.3" cy="417.2" r="3.8"/>
<circle cx="526.8" cy="416.0" r="3.8"/>
<circle cx="527.2" cy="415.1" r="3.8"/>
<circle cx="527.8" cy="421.4" r="3.8"/>
<circle cx="528.2" cy="413.9" r="3.8"/>
<circle cx="528.2" cy="421.0" r="3.8"/>
<circle cx="528.7" cy="410.5" r="3.8"/>
<circle cx="528.6" cy="413.9" r="3.8"/>
<circle cx="529.6" cy="401.8" r="3.8"/>
<circle cx="530.5" cy="410.2" r="3.8"/>
<circle cx="531.3" cy="406.4" r="3.8"/>
<circle cx="531.4" cy="404.7" r="3.8"/>
<circle cx="530.6" cy="402.9" r="3.8"/>
<circle cx="531.1" cy="403.4" r="3.8"/>
<circle cx="532.4" cy="408.2" r="3.8"/>
<circle cx="533.5" cy="404.1" r="3.8"/>
<circle cx="532.6" cy="406.5" r="3.8"/>
<circle cx="534.0" cy="404.0" r="3.8"/>
<circle cx="533.6" cy="413.7" r="3.8"/>
<circle cx="535.0" cy="402.1" r="3.8"/>
<circle cx="535.8" cy="404.9" r="3.8"/>
<circle cx="535.7" cy="408.2" r="3.8"/>
<circle cx="536.4" cy="406.2" r="3.8"/>
<circle cx="536.1" cy="407.7" r="3.8"/>
<circle cx="536.2" cy="413.4" r="3.8"/>
<circle cx="536.6" cy="411.2" r="3.8"/>
<circle cx="537.5" cy="410.1" r="3.8"/>
<circle cx="537.4" cy="412.9" r="3.8"/>
<circle cx="538.5" cy="409.0" r="3.8"/>
<circle cx="539.8" cy="413.6" r="3.8"/>
<circle cx="539.1" cy="409.9" r="3.8"/>
<circle cx="539.6" cy="405.0" r="3.8"/>
<circle cx="540.0" cy="410.2" r="3.8"/>
<circle cx="541.3" cy="407.3" r="3.8"/>
<circle cx="541.0" cy="414.6" r="3.8"/>
<circle cx="541.3" cy="421.5" r="3.8"/>
<circle cx="541.7" cy="418.4" r="3.8"/>
<circle cx="543.2" cy="422.9" r="3.8"/>
<circle cx="543.8" cy="414.4" r="3.8"/>
<circle cx="542.9" cy="419.7" r="3.8"/>
<circle cx="544.0" cy="419.5" r="3.8"/>
<circle cx="543.5" cy="424.7" r="3.8"/>
<circle cx="545.2" cy="426.1" r="3.8"/>
<circle cx="545.6" cy="427.6" r="3.8"/>
<circle cx="545.0" cy="432.5" r="3.8"/>
<circle cx="545.9" cy="435.2" r="3.8"/>
<circle cx="547.7" cy="437.4" r="3.8"/>
<circle cx="548.2" cy="437.0" r="3.8"/>
<circle cx="547.0" cy="443.9" r="3.8"/>
<circle cx="547.0" cy="441.6" r="3.8"/>
<circle cx="547.1" cy="449.3" r="3.8"/>
<circle cx="548.0" cy="450.8" r="3.8"/>
<circle cx="548.3" cy="451.7" r="3.8"/>
<circle cx="550.4" cy="450.5" r="3.8"/>
<circle cx="549.9" cy="451.9" r="3.8"/>
<circle cx="551.4" cy="458.0" r="3.8"/>
<circle cx="552.5" cy="459.7" r="3.8"/>
<circle cx="550.9" cy="457.1" r="3.8"/>
<circle cx="552.6" cy="462.8" r="3.8"/>
<circle cx="552.6" cy="459.9" r="3.8"/>
<circle cx="552.8" cy="460.7" r="3.8"/>
<circle cx="552.3" cy="459.7" r="3.8"/>
<circle cx="553.5" cy="472.8" r="3.8"/>
<circle cx="553.4" cy="472.0" r="3.8"/>
<circle cx="553.9" cy="467.2" r="3.8"/>
<circle cx="554.5" cy="467.1" r="3.8"/>
<circle cx="554.9" cy="471.4" r="3.8"/>
<circle cx="556.2" cy="472.9" r="3.8"/>
<circle cx="556.2" cy="464.9" r="3.8"/>
<circle cx="558.1" cy="471.0" r="3.8"/>
<circle cx="556.8" cy="469.6" r="3.8"/>
<circle cx="558.9" cy="479.0" r="3.8"/>
<circle cx="557.9" cy="476.4" r="3.8"/>
<circle cx="558.3" cy="468.6" r="3.8"/>
<circle cx="558.2" cy="467.0" r="3.8"/>
<circle cx="559.5" cy="473.1" r="3.8"/>
<circle cx="559.9" cy="473.7" r="3.8"/>
<circle cx="561.1" cy="466.0" r="3.8"/>
<circle cx="561.2" cy="474.9" r="3.8"/>
<circle cx="562.0" cy="473.4" r="3.8"/>
<circle cx="562.9" cy="479.4" r="3.8"/>
<circle cx="562.2" cy="475.6" r="3.8"/>
<circle cx="562.7" cy="470.0" r="3.8"/>
<circle cx="563.1" cy="478.5" r="3.8"/>
<circle cx="563.6" cy="469.6" r="3.8"/>
<circle cx="565.4" cy="465.4" r="3.8"/>
<circle cx="565.0" cy="462.7" r="3.8"/>
<circle cx="564.6" cy="474.9" r="3.8"/>
<circle cx="565.3" cy="469.7" r="3.8"/>
<circle cx="565.3" cy="463.7" r="3.8"/>
<circle cx="567.3" cy="460.2" r="3.8"/>
<circle cx="567.9" cy="467.7" r="3.8"/>
<circle cx="567.9" cy="455.7" r="3.8"/>
<circle cx="568.2" cy="457.7" r="3.8"/>
<circle cx="567.9" cy="459.1" r="3.8"/>
<circle cx="567.6" cy="463.3" r="3.8"/>
<circle cx="570.2" cy="454.7" r="3.8"/>
<circle cx="569.9" cy="451.7" r="3.8"/>
<circle cx="569.4" cy="452.6" r="3.8"/>
<circle cx="571.2" cy="449.2" r="3.8"/>
<circle cx="571.6" cy="446.3" r="3.8"/>
<circle cx="571.5" cy="444.8" r="3.8"/>
<circle cx="572.4" cy="444.4" r="3.8"/>
<circle cx="572.7" cy="441.3" r="3.8"/>
<circle cx="572.0" cy="440.9" r="3.8"/>
<circle cx="572.6" cy="439.7" r="3.8"/>
<circle cx="573.6" cy="439.7" r="3.8"/>
<circle cx="574.2" cy="437.1" r="3.8"/>
<circle cx="573.8" cy="434.3" r="3.8"/>
<circle cx="576.2" cy="430.4" r="3.8"/>
<circle cx="575.6" cy="430.3" r="3.8"/>
<circle cx="576.8" cy="428.2" r="3.8"/>
<circle cx="575.5" cy="424.6" r="3.8"/>
<circle cx="576.7" cy="425.6" r="3.8"/>
<circle cx="578.2" cy="422.5" r="3.8"/>
<circle cx="578.8" cy="421.7" r="3.8"/>
<circle cx="578.0" cy="409.4" r="3.8"/>
<circle cx="579.2" cy="419.6" r="3.8"/>
<circle cx="578.5" cy="410.4" r="3.8"/>
<circle cx="578.9" cy="412.1" r="3.8"/>
<circle cx="580.5" cy="413.4" r="3.8"/>
<circle cx="580.4" cy="414.5" r="3.8"/>
<circle cx="580.7" cy="406.9" r="3.8"/>
<circle cx="581.7" cy="411.8" r="3.8"/>
<circle cx="581.8" cy="404.6" r="3.8"/>
<circle cx="582.7" cy="409.2" r="3.8"/>
<circle cx="583.0" cy="400.7" r="3.8"/>
<circle cx="583.2" cy="403.6" r="3.8"/>
<circle cx="583.4" cy="401.9" r="3.8"/>
<circle cx="583.9" cy="403.2" r="3.8"/>
<circle cx="584.0" cy="399.0" r="3.8"/>
<circle cx="584.2" cy="406.2" r="3.8"/>
<circle cx="585.7" cy="401.1" r="3.8"/>
<circle cx="585.6" cy="402.4" r="3.8"/>
<circle cx="586.8" cy="401.9" r="3.8"/>
<circle cx="587.0" cy="400.0" r="3.8"/>
<circle cx="586.7" cy="410.0" r="3.8"/>
<circle cx="588.1" cy="404.3" r="3.8"/>
<circle cx="587.9" cy="406.8" r="3.8"/>
<circle cx="588.5" cy="399.4" r="3.8"/>
<circle cx="589.3" cy="403.6" r="3.8"/>
<circle cx="589.3" cy="402.6" r="3.8"/>
<circle cx="590.4" cy="407.2" r="3.8"/>
<circle cx="590.2" cy="403.4" r="3.8"/>
<circle cx="591.5" cy="406.3" r="3.8"/>
<circle cx="592.0" cy="401.3" r="3.8"/>
<circle cx="591.5" cy="408.1" r="3.8"/>
<circle cx="591.9" cy="413.6" r="3.8"/>
<circle cx="593.0" cy="406.5" r="3.8"/>
<circle cx="593.1" cy="411.2" r="3.8"/>
<circle cx="594.1" cy="413.3" r="3.8"/>
<circle cx="593.2" cy="418.6" r="3.8"/>
<circle cx="594.3" cy="416.5" r="3.8"/>
<circle cx="595.4" cy="414.8" r="3.8"/>
<circle cx="595.2" cy="415.7" r="3.8"/>
<circle cx="595.6" cy="420.7" r="3.8"/>
<circle cx="596.2" cy="421.0" r="3.8"/>
<circle cx="597.1" cy="425.2" r="3.8"/>
<circle cx="596.8" cy="427.2" r="3.8"/>
<circle cx="598.1" cy="425.6" r="3.8"/>
<circle cx="598.8" cy="430.1" r="3.8"/>
<circle cx="597.4" cy="433.0" r="3.8"/>
<circle cx="597.7" cy="431.9" r="3.8"/>
<circle cx="598.2" cy="436.8" r="3.8"/>
<circle cx="600.5" cy="434.8" r="3.8"/>
<circle cx="599.0" cy="439.0" r="3.8"/>
<circle cx="601.3" cy="441.4" r="3.8"/>
<circle cx="599.9" cy="442.2" r="3.8"/>
<circle cx="601.4" cy="445.0" r="3.8"/>
<circle cx="603.4" cy="446.2" r="3.8"/>
<circle cx="603.5" cy="449.1" r="3.8"/>
<circle cx="602.5" cy="446.9" r="3.8"/>
<circle cx="602.0" cy="450.2" r="3.8"/>
<circle cx="603.2" cy="454.1" r="3.8"/>
<circle cx="603.8" cy="451.6" r="3.8"/>
<circle cx="605.8" cy="453.0" r="3.8"/>
<circle cx="605.2" cy="455.9" r="3.8"/>
<circle cx="604.4" cy="456.6" r="3.8"/>
<circle cx="607.1" cy="457.3" r="3.8"/>
<circle cx="607.5" cy="461.3" r="3.8"/>
<circle cx="606.3" cy="459.2" r="3.8"/>
<circle cx="607.5" cy="457.5" r="3.8"/>
<circle cx="607.8" cy="463.1" r="3.8"/>
<circle cx="608.6" cy="465.8" r="3.8"/>
<circle cx="609.5" cy="465.2" r="3.8"/>
<circle cx="610.3" cy="463.9" r="3.8"/>
<circle cx="608.6" cy="470.0" r="3.8"/>
<circle cx="610.2" cy="467.7" r="3.8"/>
<circle cx="610.8" cy="470.1" r="3.8"/>
<circle cx="610.5" cy="470.0" r="3.8"/>
<circle cx="611.0" cy="477.7" r="3.8"/>
<circle cx="612.7" cy="477.6" r="3.8"/>
<circle cx="612.3" cy="477.0" r="3.8"/>
<circle cx="612.7" cy="482.9" r="3.8"/>
<circle cx="612.2" cy="483.2" r="3.8"/>
<circle cx="614.1" cy="477.2" r="3.8"/>
<circle cx="615.1" cy="471.9" r="3.8"/>
<circle cx="614.9" cy="472.3" r="3.8"/>
<circle cx="616.1" cy="473.9" r="3.8"/>
<circle cx="616.3" cy="479.3" r="3.8"/>
<circle cx="616.4" cy="478.5" r="3.8"/>
<circle cx="616.0" cy="479.9" r="3.8"/>
<circle cx="617.7" cy="472.4" r="3.8"/>
<circle cx="618.4" cy="470.4" r="3.8"/>
<circle cx="616.8" cy="470.2" r="3.8"/>
<circle cx="618.9" cy="467.6" r="3.8"/>
<circle cx="618.5" cy="478.5" r="3.8"/>
<circle cx="618.6" cy="472.9" r="3.8"/>
<circle cx="620.0" cy="473.7" r="3.8"/>
<circle cx="619.0" cy="460.6" r="3.8"/>
<circle cx="619.4" cy="465.5" r="3.8"/>
<circle cx="620.5" cy="464.9" r="3.8"/>
<circle cx="621.6" cy="453.8" r="3.8"/>
<circle cx="622.0" cy="452.4" r="3.8"/>
<circle cx="623.5" cy="449.4" r="3.8"/>
<circle cx="623.7" cy="448.5" r="3.8"/>
<circle cx="624.0" cy="445.8" r="3.8"/>
<circle cx="623.3" cy="448.3" r="3.8"/>
<circle cx="623.8" cy="441.6" r="3.8"/>
<circle cx="623.8" cy="442.9" r="3.8"/>
<circle cx="623.9" cy="440.6" r="3.8"/>
<circle cx="626.1" cy="438.4" r="3.8"/>
<circle cx="626.4" cy="436.4" r="3.8"/>
<circle cx="627.3" cy="433.0" r="3.8"/>
<circle cx="628.0" cy="431.2" r="3.8"/>
<circle cx="628.5" cy="433.9" r="3.8"/>
<circle cx="627.1" cy="429.4" r="3.8"/>
<circle cx="628.9" cy="426.4" r="3.8"/>
<circle cx="629.8" cy="425.1" r="3.8"/>
<circle cx="629.0" cy="421.0" r="3.8"/>
<circle cx="629.8" cy="422.9" r="3.8"/>
<circle cx="628.8" cy="419.2" r="3.8"/>
<circle cx="630.0" cy="404.4" r="3.8"/>
<circle cx="631.4" cy="414.2" r="3.8"/>
<circle cx="632.0" cy="405.6" r="3.8"/>
<circle cx="631.9" cy="403.0" r="3.8"/>
<circle cx="632.0" cy="415.2" r="3.8"/>
<circle cx="632.9" cy="414.9" r="3.8"/>
<circle cx="632.8" cy="393.3" r="3.8"/>
<circle cx="633.1" cy="398.4" r="3.8"/>
<circle cx="633.5" cy="402.3" r="3.8"/>
<circle cx="634.1" cy="402.8" r="3.8"/>
<circle cx="635.0" cy="393.5" r="3.8"/>
<circle cx="635.4" cy="393.8" r="3.8"/>
<circle cx="636.0" cy="402.8" r="3.8"/>
<circle cx="635.5" cy="398.6" r="3.8"/>
<circle cx="636.1" cy="399.3" r="3.8"/>
<circle cx="636.6" cy="401.0" r="3.8"/>
<circle cx="637.4" cy="400.1" r="3.8"/>
<circle cx="638.3" cy="397.5" r="3.8"/>
<circle cx="638.0" cy="394.7" r="3.8"/>
<circle cx="638.7" cy="404.8" r="3.8"/>
<circle cx="640.0" cy="403.5" r="3.8"/>
<circle cx="639.3" cy="398.8" r="3.8"/>
<circle cx="640.9" cy="393.8" r="3.8"/>
<circle cx="640.7" cy="394.1" r="3.8"/>
<circle cx="640.6" cy="399.6" r="3.8"/>
<circle cx="641.1" cy="398.7" r="3.8"/>
<circle cx="642.1" cy="399.6" r="3.8"/>
<circle cx="642.1" cy="397.4" r="3.8"/>
<circle cx="642.5" cy="403.2" r="3.8"/>
<circle cx="643.0" cy="400.2" r="3.8"/>
<circle cx="643.9" cy="410.4" r="3.8"/>
<circle cx="643.6" cy="411.3" r="3.8"/>
<circle cx="644.8" cy="412.6" r="3.8"/>
<circle cx="645.4" cy="411.2" r="3.8"/>
<circle cx="645.3" cy="410.4" r="3.8"/>
<circle cx="645.2" cy="403.5" r="3.8"/>
<circle cx="645.3" cy="403.1" r="3.8"/>
<circle cx="647.1" cy="405.9" r="3.8"/>
<circle cx="648.6" cy="407.5" r="3.8"/>
<circle cx="648.2" cy="408.6" r="3.8"/>
<circle cx="648.7" cy="411.5" r="3.8"/>
<circle cx="649.4" cy="416.5" r="3.8"/>
<circle cx="648.6" cy="414.9" r="3.8"/>
<circle cx="651.1" cy="419.8" r="3.8"/>
<circle cx="650.5" cy="419.5" r="3.8"/>
<circle cx="651.5" cy="425.6" r="3.8"/>
<circle cx="652.0" cy="426.5" r="3.8"/>
<circle cx="652.7" cy="429.8" r="3.8"/>
<circle cx="653.2" cy="430.2" r="3.8"/>
<circle cx="652.2" cy="435.0" r="3.8"/>
<circle cx="652.2" cy="436.0" r="3.8"/>
<circle cx="653.9" cy="442.1" r="3.8"/>
<circle cx="653.4" cy="440.9" r="3.8"/>
<circle cx="653.4" cy="442.2" r="3.8"/>
<circle cx="654.2" cy="443.9" r="3.8"/>
<circle cx="656.5" cy="449.2" r="3.8"/>
<circle cx="655.5" cy="449.6" r="3.8"/>
<circle cx="656.8" cy="449.4" r="3.8"/>
<circle cx="657.2" cy="452.9" r="3.8"/>
<circle cx="656.1" cy="452.8" r="3.8"/>
<circle cx="658.4" cy="454.1" r="3.8"/>
<circle cx="656.7" cy="456.3" r="3.8"/>
<circle cx="657.9" cy="457.2" r="3.8"/>
<circle cx="660.1" cy="455.2" r="3.8"/>
<circle cx="659.8" cy="461.5" r="3.8"/>
<circle cx="660.4" cy="454.5" r="3.8"/>
<circle cx="661.1" cy="466.3" r="3.8"/>
<circle cx="661.3" cy="464.1" r="3.8"/>
<circle cx="661.2" cy="465.5" r="3.8"/>
<circle cx="662.2" cy="460.9" r="3.8"/>
<circle cx="662.8" cy="466.3" r="3.8"/>
<circle cx="663.5" cy="460.0" r="3.8"/>
<circle cx="663.9" cy="463.8" r="3.8"/>
<circle cx="664.4" cy="458.6" r="3.8"/>
<circle cx="663.1" cy="468.5" r="3.8"/>
<circle cx="663.5" cy="469.8" r="3.8"/>
<circle cx="664.5" cy="461.4" r="3.8"/>
<circle cx="665.0" cy="462.3" r="3.8"/>
<circle cx="665.9" cy="472.0" r="3.8"/>
<circle cx="665.7" cy="469.6" r="3.8"/>
<circle cx="667.1" cy="470.9" r="3.8"/>
<circle cx="667.9" cy="469.8" r="3.8"/>
<circle cx="667.1" cy="472.2" r="3.8"/>
<circle cx="668.1" cy="462.2" r="3.8"/>
<circle cx="667.8" cy="473.0" r="3.8"/>
<circle cx="669.5" cy="469.6" r="3.8"/>
<circle cx="667.9" cy="471.8" r="3.8"/>
<circle cx="668.4" cy="466.9" r="3.8"/>
<circle cx="670.7" cy="461.0" r="3.8"/>
<circle cx="670.7" cy="464.7" r="3.8"/>
<circle cx="670.5" cy="464.6" r="3.8"/>
<circle cx="671.0" cy="460.5" r="3.8"/>
<circle cx="672.1" cy="468.7" r="3.8"/>
<circle cx="671.3" cy="460.0" r="3.8"/>
<circle cx="673.2" cy="457.9" r="3.8"/>
<circle cx="673.5" cy="458.5" r="3.8"/>
<circle cx="672.7" cy="461.8" r="3.8"/>
<circle cx="672.9" cy="458.3" r="3.8"/>
<circle cx="673.7" cy="458.4" r="3.8"/>
<circle cx="676.0" cy="448.9" r="3.8"/>
<circle cx="674.7" cy="448.4" r="3.8"/>
<circle cx="676.1" cy="454.0" r="3.8"/>
<circle cx="676.0" cy="446.7" r="3.8"/>
<circle cx="678.0" cy="442.2" r="3.8"/>
<circle cx="678.6" cy="439.9" r="3.8"/>
<circle cx="678.6" cy="435.8" r="3.8"/>
<circle cx="678.2" cy="433.3" r="3.8"/>
<circle cx="677.6" cy="430.0" r="3.8"/>
<circle cx="678.9" cy="432.5" r="3.8"/>
<circle cx="678.8" cy="429.4" r="3.8"/>
<circle cx="678.8" cy="424.9" r="3.8"/>
<circle cx="681.4" cy="423.9" r="3.8"/>
<circle cx="680.5" cy="421.7" r="3.8"/>
<circle cx="682.4" cy="421.8" r="3.8"/>
<circle cx="680.5" cy="418.5" r="3.8"/>
<circle cx="682.0" cy="416.2" r="3.8"/>
<circle cx="682.2" cy="415.9" r="3.8"/>
<circle cx="683.3" cy="414.9" r="3.8"/>
<circle cx="683.5" cy="411.2" r="3.8"/>
<circle cx="684.6" cy="415.1" r="3.8"/>
<circle cx="684.2" cy="412.0" r="3.8"/>
<circle cx="684.1" cy="416.9" r="3.8"/>
<circle cx="685.6" cy="414.2" r="3.8"/>
<circle cx="685.7" cy="409.8" r="3.8"/>
<circle cx="686.8" cy="406.1" r="3.8"/>
<circle cx="687.0" cy="405.8" r="3.8"/>
<circle cx="686.8" cy="396.8" r="3.8"/>
<circle cx="688.3" cy="398.1" r="3.8"/>
<circle cx="687.4" cy="407.9" r="3.8"/>
<circle cx="688.6" cy="403.9" r="3.8"/>
<circle cx="688.7" cy="396.9" r="3.8"/>
<circle cx="689.6" cy="406.0" r="3.8"/>
<circle cx="690.2" cy="400.0" r="3.8"/>
<circle cx="690.3" cy="400.1" r="3.8"/>
<circle cx="691.5" cy="401.8" r="3.8"/>
<circle cx="691.6" cy="404.7" r="3.8"/>
<circle cx="691.4" cy="405.1" r="3.8"/>
<circle cx="692.4" cy="408.8" r="3.8"/>
<circle cx="692.1" cy="405.3" r="3.8"/>
<circle cx="693.1" cy="398.4" r="3.8"/>
<circle cx="693.9" cy="407.0" r="3.8"/>
<circle cx="693.3" cy="400.8" r="3.8"/>
<circle cx="694.9" cy="403.0" r="3.8"/>
<circle cx="695.1" cy="398.4" r="3.8"/>
<circle cx="694.9" cy="398.5" r="3.8"/>
<circle cx="695.3" cy="397.0" r="3.8"/>
<circle cx="696.8" cy="401.3" r="3.8"/>
<circle cx="696.0" cy="408.8" r="3.8"/>
<circle cx="697.7" cy="400.3" r="3.8"/>
<circle cx="697.2" cy="398.9" r="3.8"/>
<circle cx="697.3" cy="402.0" r="3.8"/>
<circle cx="698.1" cy="395.4" r="3.8"/>
<circle cx="700.1" cy="396.4" r="3.8"/>
<circle cx="698.4" cy="396.2" r="3.8"/>
<circle cx="699.6" cy="399.9" r="3.8"/>
<circle cx="700.5" cy="400.3" r="3.8"/>
<circle cx="700.1" cy="401.5" r="3.8"/>
<circle cx="701.8" cy="399.9" r="3.8"/>
<circle cx="701.7" cy="403.1" r="3.8"/>
<circle cx="702.7" cy="405.7" r="3.8"/>
<circle cx="702.0" cy="405.3" r="3.8"/>
<circle cx="702.9" cy="410.4" r="3.8"/>
<circle cx="703.7" cy="408.8" r="3.8"/>
<circle cx="704.5" cy="410.3" r="3.8"/>
<circle cx="705.1" cy="410.9" r="3.8"/>
<circle cx="704.2" cy="415.3" r="3.8"/>
<circle cx="704.4" cy="418.9" r="3.8"/>
<circle cx="704.3" cy="417.0" r="3.8"/>
<circle cx="706.7" cy="420.3" r="3.8"/>
<circle cx="706.2" cy="423.0" r="3.8"/>
<circle cx="705.8" cy="425.8" r="3.8"/>
<circle cx="707.8" cy="425.3" r="3.8"/>
<circle cx="708.2" cy="430.8" r="3.8"/>
<circle cx="709.0" cy="431.5" r="3.8"/>
<circle cx="709.9" cy="432.1" r="3.8"/>
<circle cx="708.7" cy="436.1" r="3.8"/>
<circle cx="710.5" cy="436.6" r="3.8"/>
<circle cx="709.2" cy="438.7" r="3.8"/>
<circle cx="710.6" cy="443.8" r="3.8"/>
<circle cx="711.4" cy="444.4" r="3.8"/>
<circle cx="710.4" cy="448.7" r="3.8"/>
<circle cx="710.6" cy="448.2" r="3.8"/>
<circle cx="712.3" cy="450.9" r="3.8"/>
<circle cx="713.2" cy="455.6" r="3.8"/>
<circle cx="712.9" cy="456.0" r="3.8"/>
<circle cx="713.0" cy="457.8" r="3.8"/>
<circle cx="714.9" cy="461.1" r="3.8"/>
<circle cx="713.6" cy="462.9" r="3.8"/>
<circle cx="715.7" cy="463.8" r="3.8"/>
<circle cx="716.6" cy="464.7" r="3.8"/>
<circle cx="716.6" cy="468.6" r="3.8"/>
<circle cx="716.8" cy="470.1" r="3.8"/>
<circle cx="715.8" cy="471.1" r="3.8"/>
<circle cx="717.8" cy="470.5" r="3.8"/>
<circle cx="717.1" cy="470.2" r="3.8"/>
<circle cx="718.4" cy="467.7" r="3.8"/>
<circle cx="718.0" cy="471.8" r="3.8"/>
</g>
<rect x="400.2" y="286.9" width="317.3" height="236.0" fill="none" stroke="#000" stroke-width="1.8"/>
<text x="400.2" y="542.2" font-family="Liberation Serif" font-size="19" text-anchor="middle" font-weight="normal" font-style="normal" >0</text>
<text x="485.9" y="542.2" font-family="Liberation Serif" font-size="19" text-anchor="middle" font-weight="normal" font-style="normal" >100</text>
<text x="571.7" y="542.2" font-family="Liberation Serif" font-size="19" text-anchor="middle" font-weight="normal" font-style="normal" >200</text>
<text x="657.4" y="542.2" font-family="Liberation Serif" font-size="19" text-anchor="middle" font-weight="normal" font-style="normal" >300</text>
<text x="562.4" y="560.4" font-family="Liberation Serif" font-size="18.1" text-anchor="middle" font-weight="normal" font-style="normal" >Time (s)</text>
<text transform="translate(396.5,411) rotate(-90)" font-family="Liberation Serif" font-size="18.5" text-anchor="middle">ΔR</text>
<text x="404.6" y="306.2" font-family="Liberation Serif" font-size="19.3" text-anchor="start" font-weight="bold" font-style="normal" >(d)</text>
<rect x="629.9" y="305.3" width="5" height="5" fill="none" stroke="#3c3cff" stroke-width="0.95"/>
<circle cx="632.4" cy="338.3" r="3.1" fill="#ff0000"/>
<text x="648.4" y="312.4" font-family="Liberation Serif" font-size="18.3" text-anchor="start" font-weight="normal" font-style="normal" >ΔR</text>
<text x="670.6" y="319.0" font-family="Liberation Serif" font-size="10.5" text-anchor="start" font-weight="normal" font-style="italic" >//</text>
<text x="648.4" y="342.3" font-family="Liberation Serif" font-size="18.3" text-anchor="start" font-weight="normal" font-style="normal" >ΔR</text>
<text x="671.3" y="349.5" font-family="Liberation Serif" font-size="9.5" text-anchor="start" font-weight="normal" font-style="normal" >⊥</text>
</svg></body></html>
